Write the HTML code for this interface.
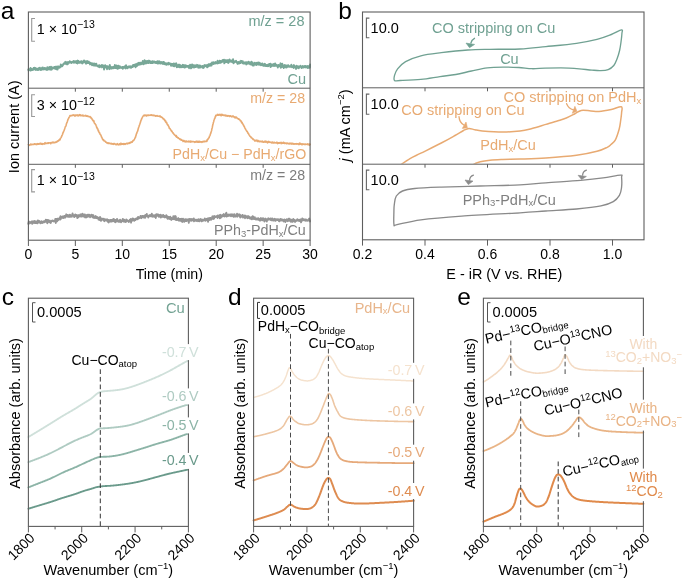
<!DOCTYPE html>
<html><head><meta charset="utf-8"><style>
html,body{margin:0;padding:0;background:#fff;overflow:hidden;width:685px;height:580px;}
svg{display:block;will-change:transform;}
text{font-family:"Liberation Sans", sans-serif;}
</style></head><body>
<svg width="685" height="580" viewBox="0 0 685 580">
<rect width="685" height="580" fill="#fff"/>
<polyline points="28.30,69.53 28.55,70.58 28.80,70.47 29.05,69.07 29.30,69.23 29.55,69.04 29.80,69.91 30.05,69.40 30.30,70.04 30.55,67.95 30.80,70.67 31.05,69.33 31.30,69.95 31.55,69.28 31.80,69.08 32.05,69.74 32.30,70.02 32.55,69.19 32.80,69.22 33.05,69.88 33.30,68.63 33.55,68.10 33.80,69.62 34.05,68.76 34.30,67.74 34.55,68.62 34.80,68.88 35.05,68.29 35.30,68.04 35.55,69.25 35.80,69.93 36.05,69.01 36.30,68.59 36.55,69.48 36.80,69.74 37.05,68.91 37.30,69.58 37.55,69.96 37.80,68.95 38.05,68.45 38.30,69.37 38.55,69.27 38.80,69.94 39.05,68.02 39.30,68.51 39.55,68.35 39.80,67.62 40.05,69.10 40.30,69.41 40.55,68.38 40.80,70.06 41.05,69.60 41.30,69.43 41.55,69.23 41.80,69.66 42.05,67.82 42.30,69.36 42.55,69.33 42.80,67.42 43.05,69.10 43.30,68.60 43.55,69.41 43.80,68.42 44.05,68.74 44.30,69.01 44.55,68.02 44.80,69.18 45.05,68.60 45.30,69.06 45.55,68.23 45.80,69.50 46.05,69.10 46.30,68.45 46.55,69.08 46.80,69.56 47.05,69.97 47.30,67.26 47.55,69.20 47.80,68.85 48.05,68.38 48.30,67.63 48.55,69.42 48.80,67.39 49.05,68.83 49.30,69.40 49.55,67.06 49.80,68.07 50.05,67.25 50.30,68.47 50.55,69.47 50.80,69.85 51.05,66.79 51.30,67.74 51.55,68.74 51.80,69.42 52.05,68.48 52.30,67.52 52.55,68.34 52.80,68.07 53.05,67.90 53.30,67.45 53.55,68.33 53.80,68.24 54.05,67.90 54.30,67.77 54.55,66.89 54.80,67.51 55.05,68.83 55.30,67.69 55.55,66.66 55.80,68.84 56.05,68.17 56.30,69.39 56.55,67.72 56.80,67.26 57.05,66.43 57.30,68.60 57.55,69.54 57.80,66.76 58.05,66.83 58.30,67.75 58.55,66.52 58.80,66.88 59.05,66.72 59.30,67.05 59.55,67.67 59.80,66.70 60.05,67.31 60.30,66.12 60.55,66.58 60.80,64.45 61.05,64.84 61.30,66.47 61.55,65.18 61.80,65.94 62.05,65.74 62.30,66.19 62.55,65.62 62.80,65.63 63.05,64.58 63.30,63.97 63.55,63.80 63.80,63.85 64.05,63.18 64.30,63.50 64.55,63.71 64.80,63.84 65.05,63.22 65.30,61.82 65.55,63.17 65.80,63.28 66.05,63.86 66.30,63.35 66.55,62.28 66.80,62.14 67.05,64.27 67.30,63.22 67.55,64.05 67.80,64.26 68.05,61.87 68.30,62.81 68.55,62.84 68.80,62.90 69.05,62.86 69.30,62.57 69.55,62.52 69.80,61.16 70.05,62.20 70.30,61.72 70.55,62.40 70.80,61.90 71.05,62.75 71.30,62.89 71.55,62.47 71.80,62.46 72.05,62.26 72.30,61.81 72.55,62.03 72.80,61.75 73.05,62.44 73.30,62.13 73.55,62.57 73.80,61.03 74.05,62.79 74.30,61.46 74.55,61.48 74.80,61.90 75.05,61.60 75.30,62.27 75.55,61.57 75.80,61.17 76.05,61.34 76.30,63.06 76.55,62.05 76.80,61.07 77.05,62.01 77.30,60.76 77.55,63.43 77.80,60.78 78.05,62.38 78.30,62.44 78.55,60.84 78.80,62.24 79.05,62.81 79.30,62.39 79.55,62.23 79.80,62.78 80.05,62.16 80.30,62.31 80.55,61.94 80.80,62.56 81.05,61.31 81.30,62.71 81.55,61.68 81.80,61.22 82.05,62.40 82.30,63.48 82.55,62.91 82.80,61.74 83.05,62.72 83.30,61.82 83.55,62.10 83.80,62.29 84.05,60.38 84.30,62.41 84.55,61.45 84.80,61.73 85.05,61.13 85.30,61.12 85.55,61.60 85.80,63.04 86.05,63.73 86.30,62.40 86.55,63.32 86.80,62.26 87.05,60.96 87.30,62.64 87.55,62.90 87.80,62.23 88.05,62.84 88.30,63.08 88.55,61.97 88.80,61.52 89.05,62.58 89.30,62.65 89.55,62.60 89.80,63.74 90.05,64.40 90.30,62.77 90.55,63.74 90.80,64.01 91.05,63.92 91.30,64.27 91.55,63.21 91.80,64.20 92.05,65.31 92.30,64.42 92.55,63.36 92.80,64.42 93.05,65.03 93.30,64.39 93.55,63.73 93.80,65.50 94.05,63.35 94.30,64.85 94.55,64.52 94.80,63.67 95.05,65.70 95.30,65.10 95.55,63.98 95.80,65.49 96.05,64.75 96.30,63.66 96.55,64.72 96.80,65.57 97.05,65.94 97.30,65.64 97.55,65.62 97.80,66.02 98.05,65.54 98.30,66.70 98.55,65.93 98.80,66.09 99.05,66.33 99.30,65.09 99.55,65.41 99.80,67.25 100.05,66.33 100.30,65.88 100.55,66.42 100.80,65.80 101.05,66.44 101.30,65.72 101.55,66.51 101.80,65.07 102.05,67.43 102.30,65.99 102.55,65.17 102.80,66.29 103.05,66.20 103.30,66.65 103.55,65.65 103.80,66.91 104.05,69.52 104.30,65.63 104.55,66.95 104.80,66.46 105.05,66.89 105.30,65.31 105.55,65.86 105.80,67.18 106.05,66.80 106.30,68.16 106.55,66.31 106.80,67.04 107.05,69.25 107.30,66.32 107.55,66.23 107.80,66.95 108.05,66.96 108.30,67.68 108.55,67.13 108.80,66.43 109.05,67.22 109.30,69.18 109.55,68.10 109.80,64.87 110.05,66.99 110.30,66.41 110.55,67.62 110.80,67.00 111.05,68.69 111.30,67.90 111.55,67.88 111.80,67.32 112.05,67.15 112.30,67.47 112.55,68.24 112.80,67.64 113.05,66.94 113.30,68.25 113.55,67.40 113.80,67.19 114.05,66.63 114.30,66.82 114.55,66.77 114.80,65.05 115.05,68.11 115.30,67.75 115.55,67.14 115.80,68.15 116.05,67.67 116.30,67.63 116.55,65.36 116.80,67.16 117.05,67.77 117.30,68.64 117.55,68.83 117.80,68.50 118.05,66.44 118.30,65.61 118.55,67.83 118.80,67.40 119.05,68.15 119.30,67.29 119.55,67.57 119.80,66.19 120.05,67.75 120.30,67.04 120.55,67.68 120.80,67.77 121.05,67.31 121.30,67.65 121.55,67.39 121.80,68.00 122.05,67.80 122.30,66.95 122.55,66.91 122.80,68.77 123.05,67.29 123.30,68.15 123.55,67.66 123.80,66.88 124.05,66.72 124.30,67.41 124.55,67.50 124.80,67.77 125.05,66.25 125.30,66.77 125.55,67.15 125.80,68.49 126.05,65.30 126.30,67.52 126.55,66.71 126.80,67.47 127.05,66.71 127.30,67.37 127.55,68.31 127.80,67.31 128.05,67.35 128.30,67.28 128.55,66.36 128.80,67.36 129.05,66.74 129.30,66.23 129.55,66.82 129.80,66.64 130.05,67.40 130.30,66.73 130.55,66.31 130.80,67.86 131.05,67.44 131.30,67.63 131.55,67.05 131.80,66.43 132.05,66.13 132.30,66.19 132.55,67.11 132.80,66.39 133.05,65.05 133.30,66.14 133.55,64.97 133.80,66.17 134.05,65.01 134.30,64.89 134.55,65.93 134.80,65.70 135.05,64.36 135.30,66.20 135.55,67.24 135.80,64.23 136.05,66.76 136.30,64.65 136.55,64.69 136.80,64.82 137.05,63.69 137.30,65.77 137.55,65.00 137.80,63.89 138.05,64.16 138.30,63.07 138.55,63.90 138.80,64.83 139.05,62.60 139.30,63.52 139.55,63.87 139.80,64.48 140.05,64.61 140.30,63.05 140.55,62.71 140.80,63.55 141.05,62.79 141.30,62.73 141.55,63.74 141.80,64.13 142.05,62.90 142.30,62.45 142.55,62.99 142.80,60.96 143.05,62.40 143.30,61.52 143.55,64.24 143.80,62.88 144.05,62.41 144.30,62.14 144.55,60.28 144.80,62.86 145.05,63.58 145.30,61.69 145.55,62.82 145.80,62.85 146.05,61.03 146.30,63.01 146.55,63.34 146.80,62.44 147.05,62.20 147.30,62.88 147.55,61.01 147.80,62.31 148.05,63.08 148.30,61.24 148.55,63.03 148.80,61.89 149.05,60.56 149.30,62.14 149.55,61.44 149.80,62.48 150.05,61.28 150.30,63.06 150.55,61.62 150.80,62.50 151.05,61.74 151.30,61.95 151.55,63.16 151.80,62.38 152.05,61.89 152.30,61.20 152.55,63.13 152.80,62.79 153.05,61.94 153.30,62.40 153.55,61.38 153.80,61.39 154.05,61.54 154.30,62.48 154.55,62.44 154.80,61.60 155.05,62.79 155.30,62.83 155.55,62.35 155.80,63.05 156.05,62.00 156.30,62.15 156.55,62.63 156.80,62.24 157.05,62.92 157.30,61.31 157.55,63.47 157.80,61.73 158.05,62.25 158.30,61.31 158.55,62.92 158.80,63.49 159.05,63.36 159.30,63.20 159.55,61.32 159.80,61.98 160.05,62.26 160.30,61.92 160.55,63.60 160.80,62.89 161.05,62.75 161.30,63.20 161.55,62.08 161.80,62.15 162.05,62.20 162.30,63.34 162.55,63.25 162.80,63.48 163.05,63.92 163.30,62.01 163.55,62.69 163.80,63.31 164.05,62.16 164.30,62.86 164.55,64.14 164.80,64.26 165.05,64.29 165.30,63.51 165.55,63.36 165.80,64.44 166.05,63.33 166.30,63.95 166.55,64.79 166.80,63.48 167.05,63.34 167.30,63.87 167.55,64.40 167.80,64.35 168.05,64.13 168.30,64.50 168.55,62.82 168.80,63.45 169.05,64.31 169.30,63.49 169.55,63.20 169.80,63.35 170.05,63.63 170.30,64.26 170.55,63.63 170.80,64.69 171.05,65.90 171.30,64.47 171.55,65.65 171.80,64.91 172.05,63.83 172.30,64.56 172.55,64.02 172.80,65.47 173.05,63.97 173.30,66.00 173.55,65.44 173.80,63.40 174.05,65.69 174.30,66.35 174.55,64.51 174.80,65.97 175.05,63.78 175.30,65.46 175.55,63.96 175.80,65.72 176.05,63.93 176.30,63.29 176.55,65.75 176.80,67.29 177.05,65.02 177.30,66.19 177.55,65.64 177.80,65.32 178.05,66.10 178.30,66.94 178.55,64.67 178.80,66.13 179.05,65.99 179.30,64.60 179.55,67.05 179.80,67.35 180.05,65.05 180.30,67.23 180.55,65.91 180.80,65.76 181.05,67.12 181.30,66.12 181.55,66.23 181.80,67.21 182.05,67.05 182.30,66.76 182.55,64.94 182.80,64.83 183.05,67.01 183.30,65.39 183.55,66.27 183.80,65.32 184.05,66.05 184.30,65.19 184.55,67.54 184.80,65.44 185.05,66.17 185.30,66.13 185.55,67.26 185.80,65.18 186.05,66.30 186.30,66.17 186.55,66.78 186.80,66.74 187.05,66.00 187.30,66.57 187.55,66.09 187.80,66.77 188.05,66.31 188.30,65.87 188.55,66.38 188.80,66.69 189.05,68.21 189.30,66.01 189.55,66.64 189.80,67.57 190.05,64.74 190.30,65.00 190.55,65.45 190.80,66.30 191.05,68.35 191.30,66.71 191.55,67.36 191.80,66.21 192.05,64.42 192.30,64.54 192.55,67.20 192.80,66.53 193.05,65.35 193.30,67.28 193.55,65.15 193.80,67.29 194.05,67.54 194.30,65.76 194.55,65.49 194.80,67.05 195.05,65.49 195.30,67.05 195.55,65.41 195.80,67.01 196.05,66.43 196.30,66.01 196.55,65.63 196.80,66.54 197.05,64.83 197.30,66.12 197.55,66.02 197.80,66.88 198.05,65.33 198.30,67.70 198.55,66.07 198.80,65.41 199.05,67.42 199.30,67.64 199.55,66.16 199.80,65.59 200.05,66.31 200.30,65.74 200.55,66.04 200.80,67.53 201.05,66.58 201.30,66.38 201.55,66.52 201.80,66.19 202.05,66.89 202.30,66.91 202.55,65.89 202.80,66.25 203.05,68.08 203.30,66.47 203.55,65.96 203.80,67.72 204.05,66.07 204.30,65.16 204.55,66.55 204.80,65.26 205.05,65.55 205.30,66.18 205.55,65.79 205.80,65.25 206.05,65.39 206.30,65.32 206.55,66.70 206.80,65.15 207.05,65.23 207.30,67.28 207.55,65.15 207.80,66.72 208.05,66.51 208.30,65.25 208.55,64.15 208.80,65.55 209.05,65.63 209.30,65.76 209.55,64.94 209.80,65.74 210.05,65.78 210.30,63.72 210.55,65.60 210.80,64.49 211.05,63.79 211.30,63.89 211.55,65.55 211.80,64.75 212.05,62.45 212.30,63.87 212.55,63.61 212.80,63.51 213.05,63.16 213.30,62.32 213.55,64.09 213.80,62.57 214.05,62.95 214.30,62.68 214.55,62.50 214.80,63.60 215.05,63.24 215.30,62.32 215.55,62.03 215.80,62.33 216.05,63.41 216.30,62.67 216.55,62.69 216.80,62.18 217.05,62.17 217.30,62.49 217.55,60.79 217.80,63.50 218.05,61.53 218.30,61.66 218.55,63.14 218.80,62.21 219.05,62.03 219.30,61.49 219.55,60.68 219.80,62.04 220.05,62.81 220.30,61.10 220.55,62.88 220.80,60.86 221.05,61.14 221.30,62.10 221.55,61.66 221.80,62.19 222.05,61.01 222.30,60.75 222.55,60.05 222.80,60.56 223.05,60.63 223.30,60.32 223.55,61.69 223.80,60.89 224.05,59.80 224.30,63.36 224.55,60.68 224.80,60.33 225.05,62.30 225.30,62.23 225.55,60.36 225.80,60.09 226.05,60.45 226.30,62.14 226.55,60.98 226.80,60.57 227.05,61.19 227.30,62.17 227.55,60.09 227.80,60.89 228.05,60.09 228.30,62.94 228.55,62.66 228.80,61.97 229.05,61.11 229.30,61.75 229.55,59.54 229.80,61.46 230.05,60.17 230.30,60.19 230.55,60.70 230.80,61.00 231.05,61.75 231.30,61.87 231.55,61.53 231.80,60.58 232.05,61.90 232.30,61.28 232.55,62.34 232.80,60.68 233.05,59.22 233.30,61.07 233.55,63.20 233.80,61.87 234.05,61.36 234.30,62.25 234.55,61.97 234.80,61.96 235.05,61.20 235.30,61.70 235.55,61.82 235.80,61.17 236.05,60.82 236.30,61.85 236.55,62.54 236.80,62.31 237.05,62.21 237.30,62.24 237.55,63.93 237.80,62.10 238.05,62.75 238.30,63.50 238.55,62.01 238.80,62.20 239.05,62.85 239.30,63.39 239.55,62.31 239.80,62.37 240.05,62.18 240.30,61.16 240.55,63.04 240.80,61.97 241.05,60.82 241.30,62.11 241.55,60.87 241.80,61.47 242.05,62.31 242.30,61.59 242.55,63.21 242.80,61.21 243.05,62.62 243.30,62.88 243.55,63.63 243.80,63.23 244.05,62.71 244.30,62.61 244.55,62.53 244.80,63.51 245.05,62.11 245.30,63.08 245.55,62.62 245.80,62.91 246.05,62.54 246.30,64.49 246.55,62.28 246.80,63.04 247.05,63.09 247.30,63.38 247.55,63.29 247.80,63.29 248.05,63.77 248.30,61.81 248.55,63.05 248.80,62.08 249.05,63.29 249.30,62.18 249.55,62.39 249.80,63.14 250.05,64.33 250.30,63.71 250.55,63.51 250.80,64.43 251.05,62.58 251.30,61.69 251.55,63.05 251.80,63.20 252.05,64.44 252.30,65.20 252.55,62.45 252.80,65.53 253.05,64.83 253.30,64.28 253.55,63.94 253.80,65.61 254.05,63.77 254.30,63.36 254.55,63.88 254.80,62.70 255.05,64.21 255.30,63.77 255.55,64.16 255.80,64.21 256.05,63.11 256.30,65.04 256.55,63.21 256.80,64.76 257.05,62.80 257.30,64.41 257.55,63.48 257.80,64.20 258.05,63.68 258.30,62.48 258.55,63.36 258.80,64.34 259.05,64.81 259.30,63.16 259.55,62.67 259.80,63.69 260.05,64.25 260.30,63.94 260.55,63.82 260.80,65.17 261.05,65.29 261.30,65.13 261.55,63.81 261.80,64.65 262.05,64.46 262.30,63.49 262.55,65.36 262.80,64.75 263.05,64.31 263.30,65.86 263.55,65.36 263.80,65.45 264.05,65.75 264.30,65.39 264.55,63.82 264.80,64.54 265.05,65.68 265.30,64.28 265.55,64.95 265.80,65.26 266.05,66.11 266.30,66.02 266.55,65.72 266.80,64.87 267.05,65.77 267.30,65.48 267.55,64.95 267.80,66.19 268.05,65.52 268.30,64.53 268.55,66.17 268.80,64.97 269.05,65.67 269.30,64.00 269.55,65.22 269.80,64.49 270.05,64.49 270.30,63.76 270.55,67.02 270.80,65.20 271.05,65.53 271.30,66.25 271.55,65.28 271.80,65.81 272.05,64.32 272.30,65.59 272.55,65.11 272.80,65.86 273.05,65.62 273.30,64.39 273.55,64.03 273.80,64.72 274.05,66.14 274.30,65.90 274.55,65.90 274.80,63.98 275.05,63.46 275.30,65.13 275.55,65.37 275.80,65.17 276.05,65.96 276.30,65.55 276.55,64.75 276.80,65.01 277.05,65.85 277.30,65.81 277.55,65.70 277.80,67.59 278.05,65.58 278.30,65.90 278.55,65.03 278.80,65.55 279.05,66.27 279.30,66.32 279.55,65.76 279.80,66.21 280.05,65.95 280.30,64.42 280.55,63.32 280.80,67.80 281.05,66.63 281.30,65.93 281.55,64.60 281.80,64.99 282.05,67.11 282.30,63.81 282.55,65.79 282.80,66.76 283.05,66.19 283.30,66.69 283.55,66.00 283.80,68.03 284.05,65.31 284.30,65.05 284.55,66.37 284.80,67.31 285.05,66.13 285.30,67.03 285.55,65.78 285.80,65.27 286.05,67.35 286.30,67.50 286.55,67.48 286.80,65.91 287.05,65.35 287.30,65.35 287.55,66.12 287.80,66.77 288.05,66.73 288.30,65.18 288.55,66.50 288.80,66.37 289.05,66.43 289.30,66.35 289.55,66.22 289.80,66.87 290.05,66.50 290.30,66.59 290.55,65.87 290.80,66.75 291.05,66.34 291.30,64.76 291.55,66.85 291.80,66.26 292.05,67.22 292.30,66.36 292.55,66.42 292.80,66.68 293.05,66.51 293.30,66.17 293.55,65.10 293.80,68.02 294.05,65.29 294.30,66.29 294.55,67.09 294.80,66.88 295.05,67.04 295.30,67.21 295.55,67.62 295.80,66.85 296.05,68.95 296.30,65.82 296.55,66.82 296.80,66.36 297.05,66.22 297.30,66.90 297.55,67.84 297.80,66.12 298.05,66.12 298.30,67.28 298.55,67.14 298.80,68.28 299.05,67.55 299.30,66.92 299.55,66.48 299.80,66.92 300.05,66.62 300.30,65.67 300.55,66.78 300.80,66.64 301.05,66.60 301.30,66.45 301.55,68.15 301.80,67.37 302.05,67.57 302.30,66.34 302.55,66.01 302.80,66.61 303.05,67.04 303.30,66.57 303.55,66.71 303.80,67.63 304.05,67.11 304.30,66.09 304.55,66.54 304.80,66.36 305.05,67.04 305.30,65.97 305.55,66.76 305.80,67.47 306.05,66.94 306.30,66.19 306.55,66.44 306.80,67.04 307.05,67.33 307.30,67.62 307.55,66.84 307.80,65.90 308.05,68.10 308.30,67.21 308.55,67.30 308.80,67.22 309.05,66.15 309.30,66.73 309.55,67.20 309.80,67.82 310.05,67.05 310.10,64.50" fill="none" stroke="#78a797" stroke-width="1.9" stroke-linejoin="round" stroke-linecap="round" />
<polyline points="28.30,144.53 28.60,144.69 28.90,144.96 29.20,144.78 29.50,145.30 29.80,144.97 30.10,144.93 30.40,144.79 30.70,144.08 31.00,144.74 31.30,144.65 31.60,144.29 31.90,144.61 32.20,144.54 32.50,144.26 32.80,144.35 33.10,144.29 33.40,144.42 33.70,144.21 34.00,144.48 34.30,143.72 34.60,144.19 34.90,143.76 35.20,144.10 35.50,144.38 35.80,144.21 36.10,144.15 36.40,144.18 36.70,144.61 37.00,143.79 37.30,144.37 37.60,143.63 37.90,143.92 38.20,144.09 38.50,143.76 38.80,144.05 39.10,144.19 39.40,143.59 39.70,143.90 40.00,143.79 40.30,143.30 40.60,143.80 40.90,143.59 41.20,144.21 41.50,143.52 41.80,144.27 42.10,143.58 42.40,144.30 42.70,143.85 43.00,143.80 43.30,143.88 43.60,143.89 43.90,144.01 44.20,144.09 44.50,143.44 44.80,143.14 45.10,142.69 45.40,143.35 45.70,143.67 46.00,143.53 46.30,143.43 46.60,143.27 46.90,143.16 47.20,143.24 47.50,143.42 47.80,142.75 48.10,143.47 48.40,142.79 48.70,143.16 49.00,142.99 49.30,143.04 49.60,142.81 49.90,142.75 50.20,143.00 50.50,142.72 50.80,143.75 51.10,142.85 51.40,142.75 51.70,142.74 52.00,142.55 52.30,142.10 52.60,142.72 52.90,142.84 53.20,142.26 53.50,142.66 53.80,142.25 54.10,142.55 54.40,142.62 54.70,142.60 55.00,142.53 55.30,142.12 55.60,142.52 55.90,142.02 56.20,142.15 56.50,142.14 56.80,141.70 57.10,141.26 57.40,141.67 57.70,140.98 58.00,140.86 58.30,140.60 58.60,140.98 58.90,140.41 59.20,139.47 59.50,140.01 59.80,140.00 60.10,139.48 60.40,138.31 60.70,138.02 61.00,137.65 61.30,137.24 61.60,136.39 61.90,135.42 62.20,135.30 62.50,134.55 62.80,133.22 63.10,132.74 63.40,132.14 63.70,131.26 64.00,130.61 64.30,129.88 64.60,129.00 64.90,128.00 65.20,126.85 65.50,126.66 65.80,126.07 66.10,125.38 66.40,123.89 66.70,123.00 67.00,122.57 67.30,121.72 67.60,120.59 67.90,119.95 68.20,118.84 68.50,118.67 68.80,117.72 69.10,117.39 69.40,116.90 69.70,116.35 70.00,115.50 70.30,115.64 70.60,115.87 70.90,115.67 71.20,115.50 71.50,115.68 71.80,115.70 72.10,115.70 72.40,115.16 72.70,115.37 73.00,115.24 73.30,115.05 73.60,114.85 73.90,115.27 74.20,115.03 74.50,115.94 74.80,115.27 75.10,115.23 75.40,115.18 75.70,115.87 76.00,115.03 76.30,115.26 76.60,115.09 76.90,115.28 77.20,115.32 77.50,115.66 77.80,114.91 78.10,115.34 78.40,115.84 78.70,115.21 79.00,115.31 79.30,115.11 79.60,114.60 79.90,115.36 80.20,115.75 80.50,115.27 80.80,114.87 81.10,115.53 81.40,115.49 81.70,115.79 82.00,115.78 82.30,115.46 82.60,115.69 82.90,115.06 83.20,115.96 83.50,115.72 83.80,116.03 84.10,116.06 84.40,115.69 84.70,115.77 85.00,115.59 85.30,115.28 85.60,115.90 85.90,116.03 86.20,115.70 86.50,116.28 86.80,116.15 87.10,116.30 87.40,115.99 87.70,115.75 88.00,116.58 88.30,116.61 88.60,116.47 88.90,116.46 89.20,116.60 89.50,116.75 89.80,116.78 90.10,116.52 90.40,117.59 90.70,117.17 91.00,117.81 91.30,118.13 91.60,118.63 91.90,118.40 92.20,119.59 92.50,119.81 92.80,120.26 93.10,120.86 93.40,120.71 93.70,120.50 94.00,122.05 94.30,122.85 94.60,123.32 94.90,123.33 95.20,124.01 95.50,124.69 95.80,124.65 96.10,125.58 96.40,126.20 96.70,127.48 97.00,127.44 97.30,128.73 97.60,128.90 97.90,129.03 98.20,130.83 98.50,130.51 98.80,131.62 99.10,132.57 99.40,132.51 99.70,132.90 100.00,134.18 100.30,134.46 100.60,134.63 100.90,135.24 101.20,136.02 101.50,137.01 101.80,137.21 102.10,138.05 102.40,138.89 102.70,139.28 103.00,139.79 103.30,140.13 103.60,139.63 103.90,140.80 104.20,140.86 104.50,141.03 104.80,141.03 105.10,141.16 105.40,141.56 105.70,142.12 106.00,141.98 106.30,142.27 106.60,142.47 106.90,142.97 107.20,142.76 107.50,142.89 107.80,143.40 108.10,142.98 108.40,143.33 108.70,142.90 109.00,143.38 109.30,143.39 109.60,143.47 109.90,143.33 110.20,143.22 110.50,143.50 110.80,143.50 111.10,144.00 111.40,144.01 111.70,143.43 112.00,144.02 112.30,143.73 112.60,144.05 112.90,143.80 113.20,143.54 113.50,144.32 113.80,144.18 114.10,143.70 114.40,143.53 114.70,143.96 115.00,143.78 115.30,144.04 115.60,144.35 115.90,144.62 116.20,144.08 116.50,144.61 116.80,144.55 117.10,144.07 117.40,143.70 117.70,144.45 118.00,144.38 118.30,144.89 118.60,144.61 118.90,144.41 119.20,144.67 119.50,143.84 119.80,144.20 120.10,144.05 120.40,144.64 120.70,144.27 121.00,143.17 121.30,144.48 121.60,143.78 121.90,144.27 122.20,143.87 122.50,144.07 122.80,144.17 123.10,144.01 123.40,143.65 123.70,144.33 124.00,144.01 124.30,143.86 124.60,144.05 124.90,143.65 125.20,144.35 125.50,143.82 125.80,143.83 126.10,143.79 126.40,143.37 126.70,143.24 127.00,143.61 127.30,143.60 127.60,143.83 127.90,143.50 128.20,142.97 128.50,143.39 128.80,143.40 129.10,143.37 129.40,143.09 129.70,142.53 130.00,143.15 130.30,142.48 130.60,142.75 130.90,141.97 131.20,142.52 131.50,141.88 131.80,142.25 132.10,142.25 132.40,141.85 132.70,140.90 133.00,140.70 133.30,140.44 133.60,140.60 133.90,140.11 134.20,139.56 134.50,139.04 134.80,138.49 135.10,137.84 135.40,137.45 135.70,136.21 136.00,135.57 136.30,134.20 136.60,133.56 136.90,132.89 137.20,131.84 137.50,131.34 137.80,130.63 138.10,129.23 138.40,128.25 138.70,127.29 139.00,126.54 139.30,125.43 139.60,124.84 139.90,123.88 140.20,122.94 140.50,122.11 140.80,120.95 141.10,120.10 141.40,119.78 141.70,118.55 142.00,118.24 142.30,117.53 142.60,116.90 142.90,116.45 143.20,115.92 143.50,115.81 143.80,115.33 144.10,115.18 144.40,115.57 144.70,115.16 145.00,115.54 145.30,115.28 145.60,115.46 145.90,115.02 146.20,115.26 146.50,116.01 146.80,115.47 147.10,115.53 147.40,115.30 147.70,115.50 148.00,114.90 148.30,115.00 148.60,115.40 148.90,115.52 149.20,115.16 149.50,115.24 149.80,115.20 150.10,115.26 150.40,114.97 150.70,114.91 151.00,115.33 151.30,114.84 151.60,115.09 151.90,115.19 152.20,115.09 152.50,115.49 152.80,115.31 153.10,115.43 153.40,115.18 153.70,115.28 154.00,115.68 154.30,115.67 154.60,115.45 154.90,115.73 155.20,115.72 155.50,115.75 155.80,116.22 156.10,115.66 156.40,115.95 156.70,116.00 157.00,115.86 157.30,115.63 157.60,116.25 157.90,116.18 158.20,116.17 158.50,116.23 158.80,116.30 159.10,116.09 159.40,116.52 159.70,115.97 160.00,116.58 160.30,116.22 160.60,116.65 160.90,117.07 161.20,116.91 161.50,117.01 161.80,117.50 162.10,117.49 162.40,117.68 162.70,117.94 163.00,118.78 163.30,118.80 163.60,119.02 163.90,118.83 164.20,119.71 164.50,119.51 164.80,120.43 165.10,120.36 165.40,121.70 165.70,121.04 166.00,122.35 166.30,122.67 166.60,122.38 166.90,123.35 167.20,124.38 167.50,124.82 167.80,124.53 168.10,125.42 168.40,125.77 168.70,126.36 169.00,127.00 169.30,128.25 169.60,128.22 169.90,128.57 170.20,128.96 170.50,129.68 170.80,130.11 171.10,130.03 171.40,131.15 171.70,130.78 172.00,131.41 172.30,132.02 172.60,132.77 172.90,132.53 173.20,133.08 173.50,133.74 173.80,133.89 174.10,134.38 174.40,134.69 174.70,134.78 175.00,135.20 175.30,135.60 175.60,135.61 175.90,136.39 176.20,135.59 176.50,136.19 176.80,137.16 177.10,137.13 177.40,137.07 177.70,137.63 178.00,138.10 178.30,137.85 178.60,138.49 178.90,138.45 179.20,138.68 179.50,138.90 179.80,139.45 180.10,138.97 180.40,139.37 180.70,139.84 181.00,139.42 181.30,139.44 181.60,140.22 181.90,140.18 182.20,140.26 182.50,140.47 182.80,140.26 183.10,141.54 183.40,140.48 183.70,140.75 184.00,140.55 184.30,140.94 184.60,141.60 184.90,141.22 185.20,141.45 185.50,141.18 185.80,141.91 186.10,141.44 186.40,141.04 186.70,141.67 187.00,141.35 187.30,141.67 187.60,141.55 187.90,141.61 188.20,141.59 188.50,141.29 188.80,141.13 189.10,141.90 189.40,141.58 189.70,141.72 190.00,141.51 190.30,141.06 190.60,141.30 190.90,142.11 191.20,141.47 191.50,141.60 191.80,141.29 192.10,141.58 192.40,141.63 192.70,141.69 193.00,141.74 193.30,141.58 193.60,141.60 193.90,141.77 194.20,141.87 194.50,141.74 194.80,142.30 195.10,141.84 195.40,141.83 195.70,141.58 196.00,142.09 196.30,141.47 196.60,141.29 196.90,141.48 197.20,141.95 197.50,141.42 197.80,142.15 198.10,141.75 198.40,141.30 198.70,141.68 199.00,142.28 199.30,141.48 199.60,141.34 199.90,141.88 200.20,142.11 200.50,142.01 200.80,141.60 201.10,141.74 201.40,141.77 201.70,142.02 202.00,142.30 202.30,141.61 202.60,142.02 202.90,141.51 203.20,141.78 203.50,141.31 203.80,141.34 204.10,141.68 204.40,141.27 204.70,141.78 205.00,141.33 205.30,141.50 205.60,141.40 205.90,141.20 206.20,141.16 206.50,141.21 206.80,141.53 207.10,139.93 207.40,140.02 207.70,139.50 208.00,138.89 208.30,138.84 208.60,138.07 208.90,137.82 209.20,137.62 209.50,135.98 209.80,135.93 210.10,135.20 210.40,133.94 210.70,133.52 211.00,132.58 211.30,131.39 211.60,130.73 211.90,128.72 212.20,127.98 212.50,126.36 212.80,124.76 213.10,123.71 213.40,122.43 213.70,121.67 214.00,120.03 214.30,119.55 214.60,118.59 214.90,118.34 215.20,116.76 215.50,116.73 215.80,115.36 216.10,115.65 216.40,115.33 216.70,115.34 217.00,114.89 217.30,114.40 217.60,114.44 217.90,115.23 218.20,114.85 218.50,114.52 218.80,115.05 219.10,114.56 219.40,114.57 219.70,114.44 220.00,115.18 220.30,115.44 220.60,114.58 220.90,114.98 221.20,115.22 221.50,115.59 221.80,114.27 222.10,115.07 222.40,115.26 222.70,114.66 223.00,115.27 223.30,115.25 223.60,115.45 223.90,115.10 224.20,115.44 224.50,115.18 224.80,115.58 225.10,115.49 225.40,115.38 225.70,115.11 226.00,116.07 226.30,115.94 226.60,115.92 226.90,115.49 227.20,115.63 227.50,116.27 227.80,116.03 228.10,115.60 228.40,115.91 228.70,115.97 229.00,115.91 229.30,115.73 229.60,116.44 229.90,116.28 230.20,116.09 230.50,115.73 230.80,116.07 231.10,116.30 231.40,116.61 231.70,116.29 232.00,116.79 232.30,116.56 232.60,116.35 232.90,115.80 233.20,116.35 233.50,116.32 233.80,116.79 234.10,117.01 234.40,117.40 234.70,117.06 235.00,116.80 235.30,117.94 235.60,117.42 235.90,117.34 236.20,117.43 236.50,117.21 236.80,117.93 237.10,117.99 237.40,118.53 237.70,118.57 238.00,118.71 238.30,119.05 238.60,118.83 238.90,119.03 239.20,119.42 239.50,119.33 239.80,119.94 240.10,120.18 240.40,120.81 240.70,120.97 241.00,120.79 241.30,121.79 241.60,122.64 241.90,122.12 242.20,122.93 242.50,123.65 242.80,123.76 243.10,124.51 243.40,125.22 243.70,125.34 244.00,126.37 244.30,126.94 244.60,126.98 244.90,127.91 245.20,128.76 245.50,128.91 245.80,129.60 246.10,130.17 246.40,130.39 246.70,131.23 247.00,131.51 247.30,131.56 247.60,132.48 247.90,133.05 248.20,133.51 248.50,133.54 248.80,134.33 249.10,135.05 249.40,135.14 249.70,135.84 250.00,136.27 250.30,136.24 250.60,136.80 250.90,136.87 251.20,137.62 251.50,137.62 251.80,137.82 252.10,138.30 252.40,138.60 252.70,139.02 253.00,139.31 253.30,139.05 253.60,139.40 253.90,139.86 254.20,140.02 254.50,140.01 254.80,140.89 255.10,140.54 255.40,140.28 255.70,140.61 256.00,140.89 256.30,140.68 256.60,140.13 256.90,140.76 257.20,140.82 257.50,141.51 257.80,140.39 258.10,141.46 258.40,141.01 258.70,141.39 259.00,141.08 259.30,141.27 259.60,141.61 259.90,141.34 260.20,141.67 260.50,141.37 260.80,141.32 261.10,141.41 261.40,141.36 261.70,141.51 262.00,141.99 262.30,141.27 262.60,141.15 262.90,141.67 263.20,142.21 263.50,142.05 263.80,142.16 264.10,142.16 264.40,141.59 264.70,141.87 265.00,141.06 265.30,141.70 265.60,142.09 265.90,141.46 266.20,141.33 266.50,141.58 266.80,142.06 267.10,142.36 267.40,142.81 267.70,142.48 268.00,141.62 268.30,141.40 268.60,142.16 268.90,142.45 269.20,141.67 269.50,142.02 269.80,142.06 270.10,142.23 270.40,142.19 270.70,142.42 271.00,142.60 271.30,142.33 271.60,142.55 271.90,142.95 272.20,142.06 272.50,142.08 272.80,142.56 273.10,142.99 273.40,142.50 273.70,142.80 274.00,142.40 274.30,142.79 274.60,142.35 274.90,142.76 275.20,142.69 275.50,142.71 275.80,143.03 276.10,142.95 276.40,142.47 276.70,142.94 277.00,142.18 277.30,143.01 277.60,143.55 277.90,142.91 278.20,142.92 278.50,142.81 278.80,143.06 279.10,142.69 279.40,143.05 279.70,142.78 280.00,142.76 280.30,142.94 280.60,142.90 280.90,142.42 281.20,143.58 281.50,143.02 281.80,142.49 282.10,143.34 282.40,143.03 282.70,143.12 283.00,143.29 283.30,142.82 283.60,142.23 283.90,143.10 284.20,143.22 284.50,143.47 284.80,142.96 285.10,143.13 285.40,143.35 285.70,143.15 286.00,143.19 286.30,143.37 286.60,143.01 286.90,143.81 287.20,143.07 287.50,143.38 287.80,143.29 288.10,143.20 288.40,143.59 288.70,143.76 289.00,143.91 289.30,143.67 289.60,143.38 289.90,143.79 290.20,143.12 290.50,143.59 290.80,143.75 291.10,143.78 291.40,143.28 291.70,143.20 292.00,144.16 292.30,143.53 292.60,143.21 292.90,143.35 293.20,143.74 293.50,144.11 293.80,143.77 294.10,144.14 294.40,143.87 294.70,143.96 295.00,144.12 295.30,143.73 295.60,143.95 295.90,143.76 296.20,143.70 296.50,144.10 296.80,143.67 297.10,143.95 297.40,143.71 297.70,143.93 298.00,143.81 298.30,144.31 298.60,144.02 298.90,144.03 299.20,144.52 299.50,143.17 299.80,143.71 300.10,143.24 300.40,144.07 300.70,144.22 301.00,144.29 301.30,144.19 301.60,143.86 301.90,144.66 302.20,144.24 302.50,144.08 302.80,143.83 303.10,144.31 303.40,144.04 303.70,144.07 304.00,144.28 304.30,144.29 304.60,143.99 304.90,144.62 305.20,143.96 305.50,143.93 305.80,144.37 306.10,144.33 306.40,144.32 306.70,144.18 307.00,144.33 307.30,144.16 307.60,143.84 307.90,144.56 308.20,144.05 308.50,144.29 308.80,144.59 309.10,144.39 309.40,145.21 309.70,143.98 310.00,144.18 310.10,144.43" fill="none" stroke="#e8aa72" stroke-width="1.6" stroke-linejoin="round" stroke-linecap="round" />
<polyline points="28.30,223.80 28.55,222.50 28.80,221.54 29.05,223.58 29.30,221.91 29.55,222.47 29.80,223.32 30.05,222.06 30.30,222.22 30.55,222.96 30.80,222.39 31.05,222.76 31.30,221.76 31.55,222.40 31.80,221.61 32.05,221.22 32.30,223.85 32.55,222.80 32.80,223.15 33.05,221.62 33.30,222.36 33.55,222.20 33.80,221.21 34.05,222.77 34.30,221.73 34.55,222.13 34.80,221.06 35.05,223.05 35.30,222.85 35.55,222.54 35.80,221.48 36.05,221.76 36.30,223.15 36.55,221.93 36.80,222.35 37.05,222.23 37.30,221.20 37.55,223.30 37.80,220.48 38.05,222.22 38.30,221.96 38.55,220.72 38.80,222.26 39.05,222.39 39.30,222.00 39.55,221.27 39.80,222.28 40.05,222.79 40.30,222.06 40.55,223.24 40.80,222.53 41.05,222.44 41.30,222.92 41.55,221.26 41.80,221.36 42.05,222.17 42.30,222.15 42.55,222.93 42.80,222.62 43.05,221.82 43.30,221.84 43.55,221.43 43.80,221.34 44.05,221.25 44.30,222.32 44.55,221.20 44.80,221.28 45.05,221.67 45.30,221.11 45.55,221.32 45.80,219.74 46.05,221.77 46.30,221.21 46.55,221.59 46.80,221.71 47.05,219.91 47.30,223.30 47.55,221.49 47.80,221.49 48.05,219.91 48.30,221.82 48.55,221.63 48.80,221.00 49.05,221.47 49.30,222.28 49.55,220.97 49.80,220.50 50.05,222.26 50.30,221.39 50.55,221.01 50.80,222.97 51.05,221.24 51.30,220.95 51.55,221.27 51.80,220.71 52.05,221.18 52.30,221.10 52.55,220.43 52.80,220.71 53.05,221.14 53.30,221.16 53.55,221.29 53.80,221.42 54.05,220.95 54.30,221.13 54.55,220.37 54.80,220.43 55.05,221.42 55.30,218.96 55.55,220.79 55.80,222.97 56.05,218.90 56.30,221.52 56.55,218.83 56.80,220.43 57.05,221.34 57.30,221.11 57.55,219.08 57.80,218.64 58.05,218.40 58.30,219.99 58.55,218.97 58.80,219.15 59.05,219.22 59.30,219.21 59.55,219.18 59.80,218.73 60.05,217.24 60.30,219.57 60.55,216.09 60.80,219.16 61.05,217.57 61.30,217.77 61.55,217.39 61.80,217.39 62.05,217.55 62.30,217.23 62.55,216.47 62.80,217.92 63.05,216.68 63.30,218.12 63.55,216.84 63.80,216.32 64.05,217.17 64.30,217.46 64.55,215.95 64.80,216.40 65.05,217.71 65.30,215.71 65.55,215.77 65.80,216.52 66.05,215.36 66.30,214.31 66.55,214.89 66.80,216.48 67.05,216.65 67.30,216.56 67.55,216.36 67.80,215.02 68.05,216.51 68.30,216.86 68.55,215.35 68.80,216.64 69.05,215.57 69.30,215.99 69.55,216.12 69.80,214.63 70.05,216.97 70.30,215.11 70.55,215.70 70.80,215.37 71.05,216.12 71.30,216.09 71.55,215.75 71.80,216.85 72.05,215.94 72.30,215.38 72.55,213.39 72.80,215.45 73.05,215.44 73.30,214.96 73.55,214.96 73.80,216.12 74.05,216.47 74.30,217.14 74.55,216.53 74.80,215.05 75.05,215.81 75.30,214.51 75.55,216.18 75.80,215.87 76.05,215.09 76.30,215.49 76.55,215.37 76.80,215.05 77.05,216.62 77.30,218.04 77.55,216.21 77.80,216.39 78.05,215.67 78.30,215.26 78.55,217.30 78.80,215.25 79.05,215.85 79.30,215.44 79.55,216.01 79.80,215.49 80.05,216.01 80.30,214.52 80.55,215.45 80.80,216.63 81.05,214.71 81.30,215.00 81.55,216.64 81.80,215.87 82.05,216.40 82.30,213.76 82.55,215.67 82.80,214.53 83.05,214.45 83.30,215.89 83.55,216.52 83.80,214.38 84.05,214.69 84.30,215.12 84.55,215.49 84.80,214.53 85.05,217.41 85.30,216.08 85.55,215.33 85.80,215.21 86.05,217.50 86.30,217.44 86.55,215.26 86.80,215.94 87.05,216.68 87.30,214.73 87.55,215.22 87.80,216.78 88.05,215.15 88.30,215.37 88.55,214.65 88.80,215.13 89.05,216.31 89.30,215.11 89.55,214.73 89.80,215.29 90.05,217.23 90.30,215.97 90.55,215.40 90.80,216.01 91.05,216.28 91.30,216.08 91.55,214.59 91.80,216.35 92.05,216.01 92.30,216.93 92.55,215.25 92.80,217.26 93.05,216.10 93.30,215.21 93.55,217.73 93.80,216.33 94.05,217.12 94.30,216.77 94.55,217.87 94.80,217.97 95.05,218.07 95.30,217.85 95.55,216.08 95.80,216.13 96.05,217.75 96.30,216.92 96.55,218.17 96.80,218.03 97.05,216.86 97.30,217.26 97.55,217.27 97.80,217.56 98.05,218.20 98.30,218.99 98.55,219.59 98.80,217.80 99.05,218.20 99.30,219.97 99.55,219.51 99.80,219.04 100.05,217.02 100.30,218.17 100.55,219.17 100.80,218.63 101.05,220.77 101.30,219.30 101.55,219.51 101.80,218.45 102.05,218.55 102.30,218.91 102.55,219.00 102.80,219.37 103.05,219.91 103.30,219.85 103.55,220.52 103.80,218.66 104.05,219.97 104.30,220.04 104.55,221.17 104.80,219.75 105.05,220.23 105.30,219.34 105.55,220.38 105.80,220.39 106.05,219.60 106.30,219.78 106.55,220.14 106.80,220.67 107.05,219.30 107.30,220.98 107.55,220.03 107.80,221.86 108.05,221.54 108.30,220.06 108.55,219.91 108.80,222.44 109.05,220.99 109.30,220.97 109.55,220.20 109.80,220.46 110.05,221.24 110.30,221.12 110.55,219.98 110.80,221.68 111.05,220.94 111.30,219.95 111.55,221.54 111.80,220.62 112.05,221.41 112.30,220.35 112.55,221.11 112.80,219.52 113.05,221.15 113.30,219.63 113.55,221.00 113.80,218.83 114.05,220.83 114.30,221.48 114.55,221.29 114.80,221.86 115.05,220.03 115.30,222.17 115.55,222.20 115.80,219.93 116.05,220.26 116.30,220.44 116.55,220.88 116.80,221.05 117.05,218.90 117.30,221.38 117.55,220.69 117.80,220.08 118.05,221.66 118.30,220.62 118.55,221.81 118.80,221.33 119.05,220.64 119.30,221.84 119.55,221.55 119.80,220.49 120.05,219.60 120.30,220.46 120.55,221.39 120.80,220.70 121.05,222.32 121.30,221.11 121.55,221.05 121.80,221.22 122.05,220.18 122.30,220.80 122.55,220.36 122.80,219.00 123.05,219.46 123.30,221.49 123.55,220.54 123.80,220.80 124.05,219.70 124.30,220.42 124.55,221.52 124.80,220.97 125.05,220.47 125.30,222.11 125.55,220.82 125.80,220.58 126.05,221.78 126.30,219.44 126.55,221.28 126.80,219.92 127.05,220.17 127.30,220.24 127.55,220.88 127.80,220.84 128.05,220.98 128.30,220.89 128.55,221.83 128.80,222.04 129.05,221.23 129.30,221.25 129.55,220.31 129.80,219.70 130.05,221.04 130.30,220.57 130.55,221.21 130.80,219.02 131.05,222.62 131.30,219.41 131.55,220.43 131.80,221.17 132.05,219.21 132.30,219.83 132.55,218.58 132.80,218.98 133.05,218.49 133.30,220.06 133.55,220.12 133.80,219.53 134.05,220.70 134.30,220.70 134.55,219.48 134.80,219.20 135.05,219.05 135.30,218.81 135.55,220.12 135.80,219.17 136.05,218.61 136.30,218.60 136.55,219.13 136.80,218.26 137.05,218.73 137.30,218.34 137.55,219.35 137.80,219.08 138.05,216.90 138.30,217.80 138.55,218.39 138.80,217.34 139.05,218.25 139.30,217.77 139.55,217.87 139.80,217.25 140.05,217.45 140.30,217.54 140.55,215.85 140.80,216.22 141.05,216.07 141.30,218.18 141.55,217.00 141.80,216.99 142.05,216.76 142.30,216.14 142.55,215.90 142.80,217.12 143.05,216.07 143.30,217.59 143.55,216.42 143.80,216.28 144.05,215.98 144.30,216.05 144.55,216.10 144.80,217.25 145.05,217.87 145.30,215.04 145.55,216.14 145.80,216.49 146.05,215.18 146.30,215.38 146.55,215.51 146.80,213.93 147.05,216.37 147.30,215.80 147.55,215.75 147.80,215.88 148.05,216.01 148.30,217.65 148.55,215.93 148.80,216.45 149.05,215.35 149.30,216.04 149.55,215.50 149.80,215.62 150.05,215.01 150.30,215.08 150.55,216.09 150.80,216.32 151.05,216.09 151.30,215.18 151.55,215.97 151.80,213.68 152.05,216.47 152.30,215.68 152.55,215.93 152.80,216.65 153.05,215.38 153.30,216.49 153.55,215.37 153.80,216.16 154.05,215.40 154.30,215.97 154.55,216.90 154.80,215.22 155.05,215.25 155.30,215.49 155.55,216.00 155.80,217.97 156.05,215.31 156.30,214.14 156.55,215.26 156.80,214.52 157.05,215.35 157.30,215.83 157.55,215.05 157.80,215.28 158.05,214.34 158.30,216.00 158.55,215.26 158.80,216.74 159.05,216.73 159.30,215.20 159.55,215.61 159.80,215.96 160.05,216.54 160.30,214.60 160.55,215.90 160.80,217.48 161.05,215.94 161.30,216.22 161.55,216.07 161.80,215.15 162.05,216.90 162.30,216.40 162.55,216.35 162.80,216.85 163.05,216.94 163.30,214.84 163.55,216.80 163.80,215.99 164.05,216.64 164.30,215.99 164.55,215.92 164.80,217.44 165.05,216.72 165.30,216.56 165.55,216.61 165.80,216.96 166.05,216.94 166.30,215.11 166.55,216.36 166.80,216.92 167.05,217.76 167.30,218.31 167.55,216.51 167.80,218.86 168.05,217.43 168.30,217.80 168.55,217.02 168.80,217.01 169.05,218.70 169.30,217.42 169.55,217.57 169.80,218.63 170.05,219.13 170.30,216.60 170.55,217.70 170.80,217.90 171.05,219.41 171.30,219.99 171.55,218.02 171.80,218.41 172.05,218.86 172.30,219.14 172.55,218.01 172.80,219.01 173.05,217.81 173.30,216.28 173.55,217.37 173.80,218.70 174.05,219.20 174.30,216.81 174.55,217.22 174.80,218.69 175.05,216.05 175.30,219.25 175.55,219.68 175.80,216.50 176.05,219.55 176.30,218.82 176.55,220.15 176.80,219.27 177.05,218.89 177.30,219.21 177.55,219.90 177.80,219.33 178.05,219.24 178.30,218.08 178.55,219.65 178.80,219.32 179.05,220.79 179.30,219.34 179.55,219.31 179.80,218.90 180.05,220.01 180.30,219.29 180.55,218.92 180.80,220.80 181.05,220.97 181.30,219.20 181.55,218.77 181.80,220.52 182.05,218.97 182.30,221.93 182.55,219.58 182.80,220.48 183.05,218.69 183.30,219.73 183.55,220.66 183.80,220.15 184.05,219.39 184.30,221.81 184.55,220.45 184.80,219.69 185.05,219.41 185.30,219.69 185.55,221.01 185.80,219.32 186.05,219.98 186.30,219.31 186.55,220.98 186.80,219.85 187.05,220.69 187.30,220.46 187.55,219.54 187.80,220.58 188.05,220.77 188.30,219.10 188.55,220.59 188.80,222.89 189.05,219.79 189.30,220.54 189.55,218.95 189.80,220.39 190.05,219.55 190.30,220.64 190.55,219.98 190.80,219.08 191.05,220.91 191.30,219.85 191.55,219.21 191.80,220.08 192.05,219.25 192.30,220.34 192.55,219.97 192.80,219.73 193.05,220.56 193.30,218.99 193.55,220.81 193.80,218.41 194.05,221.32 194.30,220.17 194.55,219.81 194.80,219.43 195.05,220.47 195.30,219.90 195.55,219.88 195.80,220.86 196.05,219.67 196.30,219.83 196.55,220.37 196.80,220.89 197.05,219.90 197.30,220.15 197.55,220.06 197.80,220.63 198.05,221.23 198.30,219.27 198.55,219.92 198.80,219.99 199.05,220.50 199.30,221.24 199.55,220.01 199.80,220.20 200.05,220.94 200.30,219.02 200.55,219.40 200.80,219.66 201.05,220.01 201.30,220.20 201.55,219.59 201.80,221.42 202.05,219.43 202.30,219.83 202.55,220.86 202.80,220.60 203.05,219.96 203.30,220.26 203.55,220.61 203.80,219.93 204.05,220.45 204.30,219.17 204.55,219.96 204.80,218.55 205.05,219.15 205.30,218.93 205.55,220.85 205.80,219.45 206.05,220.05 206.30,219.04 206.55,219.60 206.80,219.52 207.05,219.04 207.30,220.41 207.55,218.34 207.80,220.17 208.05,221.80 208.30,218.95 208.55,219.62 208.80,218.30 209.05,219.52 209.30,218.11 209.55,220.00 209.80,219.05 210.05,217.90 210.30,218.28 210.55,217.96 210.80,218.93 211.05,219.76 211.30,218.64 211.55,217.89 211.80,218.05 212.05,218.71 212.30,216.51 212.55,218.85 212.80,218.59 213.05,216.14 213.30,218.99 213.55,216.59 213.80,217.65 214.05,218.69 214.30,216.31 214.55,216.04 214.80,216.54 215.05,216.48 215.30,217.16 215.55,216.75 215.80,216.68 216.05,216.60 216.30,216.75 216.55,216.11 216.80,216.99 217.05,216.63 217.30,215.72 217.55,217.96 217.80,215.35 218.05,216.92 218.30,215.64 218.55,216.48 218.80,216.55 219.05,216.77 219.30,217.18 219.55,215.29 219.80,218.28 220.05,216.24 220.30,215.21 220.55,214.73 220.80,217.73 221.05,217.13 221.30,215.74 221.55,216.34 221.80,216.77 222.05,215.74 222.30,215.29 222.55,215.58 222.80,216.27 223.05,215.57 223.30,214.52 223.55,216.12 223.80,214.07 224.05,214.84 224.30,216.45 224.55,215.61 224.80,215.58 225.05,215.46 225.30,216.20 225.55,215.30 225.80,213.73 226.05,215.51 226.30,212.79 226.55,213.61 226.80,216.58 227.05,216.12 227.30,214.89 227.55,215.20 227.80,215.33 228.05,216.08 228.30,214.63 228.55,214.54 228.80,214.74 229.05,215.37 229.30,215.47 229.55,214.93 229.80,215.88 230.05,214.42 230.30,215.19 230.55,214.69 230.80,214.43 231.05,216.26 231.30,215.00 231.55,214.43 231.80,215.29 232.05,214.44 232.30,215.74 232.55,215.95 232.80,216.10 233.05,214.39 233.30,215.14 233.55,216.77 233.80,215.08 234.05,216.29 234.30,216.51 234.55,214.13 234.80,216.25 235.05,215.88 235.30,215.98 235.55,216.64 235.80,215.64 236.05,215.32 236.30,215.76 236.55,214.98 236.80,215.67 237.05,213.63 237.30,216.71 237.55,214.88 237.80,215.77 238.05,215.61 238.30,215.47 238.55,215.51 238.80,215.51 239.05,214.16 239.30,215.09 239.55,216.56 239.80,214.80 240.05,214.82 240.30,217.46 240.55,216.77 240.80,217.12 241.05,215.88 241.30,216.17 241.55,216.63 241.80,216.53 242.05,216.05 242.30,214.98 242.55,215.64 242.80,215.06 243.05,217.64 243.30,216.08 243.55,216.31 243.80,216.74 244.05,216.58 244.30,217.04 244.55,216.15 244.80,215.46 245.05,218.18 245.30,216.21 245.55,216.45 245.80,216.24 246.05,216.48 246.30,216.99 246.55,217.63 246.80,216.21 247.05,217.35 247.30,216.62 247.55,218.19 247.80,216.26 248.05,217.39 248.30,217.94 248.55,216.30 248.80,217.54 249.05,217.62 249.30,216.90 249.55,217.42 249.80,218.45 250.05,217.89 250.30,217.41 250.55,217.62 250.80,218.20 251.05,218.91 251.30,218.57 251.55,218.57 251.80,219.29 252.05,216.81 252.30,216.94 252.55,216.31 252.80,218.86 253.05,216.38 253.30,218.23 253.55,218.92 253.80,217.22 254.05,217.85 254.30,218.20 254.55,219.04 254.80,217.26 255.05,218.77 255.30,219.11 255.55,218.69 255.80,218.74 256.05,219.65 256.30,218.85 256.55,218.68 256.80,218.46 257.05,219.29 257.30,218.56 257.55,219.35 257.80,218.93 258.05,219.79 258.30,218.27 258.55,219.00 258.80,219.25 259.05,219.32 259.30,219.93 259.55,219.36 259.80,219.80 260.05,220.67 260.30,219.80 260.55,218.30 260.80,218.03 261.05,219.74 261.30,218.92 261.55,219.48 261.80,219.13 262.05,220.34 262.30,220.27 262.55,218.43 262.80,219.57 263.05,219.13 263.30,218.34 263.55,219.93 263.80,219.31 264.05,219.80 264.30,221.45 264.55,220.54 264.80,220.38 265.05,219.18 265.30,218.57 265.55,220.53 265.80,219.30 266.05,219.60 266.30,219.27 266.55,219.67 266.80,221.53 267.05,219.36 267.30,219.40 267.55,219.80 267.80,219.88 268.05,218.70 268.30,218.25 268.55,219.22 268.80,219.52 269.05,219.07 269.30,218.91 269.55,218.97 269.80,219.42 270.05,219.65 270.30,218.44 270.55,219.32 270.80,220.05 271.05,219.68 271.30,218.70 271.55,219.51 271.80,219.79 272.05,220.43 272.30,218.52 272.55,220.38 272.80,219.47 273.05,220.01 273.30,220.40 273.55,219.17 273.80,219.22 274.05,219.79 274.30,220.46 274.55,219.46 274.80,218.77 275.05,219.35 275.30,220.22 275.55,220.84 275.80,219.52 276.05,219.67 276.30,219.79 276.55,219.83 276.80,219.19 277.05,219.60 277.30,220.13 277.55,220.04 277.80,219.98 278.05,219.17 278.30,219.54 278.55,219.41 278.80,220.82 279.05,221.15 279.30,220.27 279.55,221.27 279.80,219.77 280.05,219.78 280.30,218.98 280.55,220.20 280.80,219.66 281.05,220.10 281.30,220.42 281.55,219.85 281.80,219.15 282.05,220.02 282.30,220.00 282.55,220.08 282.80,220.60 283.05,219.90 283.30,219.87 283.55,221.46 283.80,220.94 284.05,220.02 284.30,219.36 284.55,219.75 284.80,220.41 285.05,220.78 285.30,222.03 285.55,219.93 285.80,220.26 286.05,219.86 286.30,220.21 286.55,219.85 286.80,219.31 287.05,220.97 287.30,220.27 287.55,221.19 287.80,219.78 288.05,220.39 288.30,220.71 288.55,218.71 288.80,219.16 289.05,220.80 289.30,220.29 289.55,218.76 289.80,219.64 290.05,219.39 290.30,219.85 290.55,221.46 290.80,219.79 291.05,221.85 291.30,220.05 291.55,219.67 291.80,221.50 292.05,221.01 292.30,221.36 292.55,221.81 292.80,221.12 293.05,221.25 293.30,218.93 293.55,219.64 293.80,220.65 294.05,220.47 294.30,220.88 294.55,219.94 294.80,221.20 295.05,221.92 295.30,220.79 295.55,220.99 295.80,220.74 296.05,221.08 296.30,220.52 296.55,219.95 296.80,220.51 297.05,220.44 297.30,219.15 297.55,220.55 297.80,220.39 298.05,220.53 298.30,219.94 298.55,220.76 298.80,220.87 299.05,219.82 299.30,220.64 299.55,221.00 299.80,220.97 300.05,219.66 300.30,219.58 300.55,220.41 300.80,219.56 301.05,222.37 301.30,219.75 301.55,219.76 301.80,220.90 302.05,220.01 302.30,218.53 302.55,220.26 302.80,219.60 303.05,219.96 303.30,219.10 303.55,219.66 303.80,220.24 304.05,220.31 304.30,219.49 304.55,219.80 304.80,219.69 305.05,220.47 305.30,220.24 305.55,219.37 305.80,220.86 306.05,219.80 306.30,220.66 306.55,219.63 306.80,220.59 307.05,220.26 307.30,220.40 307.55,220.75 307.80,220.70 308.05,220.48 308.30,220.48 308.55,219.35 308.80,220.30 309.05,218.62 309.30,218.58 309.55,220.11 309.80,220.18 310.05,221.53 310.10,220.88" fill="none" stroke="#959595" stroke-width="1.9" stroke-linejoin="round" stroke-linecap="round" />
<rect x="28.4" y="12.0" width="281.70000000000005" height="228.2" fill="none" stroke="#5e5e5e" stroke-width="1.1"/>
<line x1="28.40" y1="88.20" x2="310.10" y2="88.20" stroke="#5e5e5e" stroke-width="1" />
<line x1="75.35" y1="88.20" x2="75.35" y2="91.70" stroke="#5e5e5e" stroke-width="1" />
<line x1="122.30" y1="88.20" x2="122.30" y2="91.70" stroke="#5e5e5e" stroke-width="1" />
<line x1="169.25" y1="88.20" x2="169.25" y2="91.70" stroke="#5e5e5e" stroke-width="1" />
<line x1="216.20" y1="88.20" x2="216.20" y2="91.70" stroke="#5e5e5e" stroke-width="1" />
<line x1="263.15" y1="88.20" x2="263.15" y2="91.70" stroke="#5e5e5e" stroke-width="1" />
<line x1="28.40" y1="164.30" x2="310.10" y2="164.30" stroke="#5e5e5e" stroke-width="1" />
<line x1="75.35" y1="164.30" x2="75.35" y2="167.80" stroke="#5e5e5e" stroke-width="1" />
<line x1="122.30" y1="164.30" x2="122.30" y2="167.80" stroke="#5e5e5e" stroke-width="1" />
<line x1="169.25" y1="164.30" x2="169.25" y2="167.80" stroke="#5e5e5e" stroke-width="1" />
<line x1="216.20" y1="164.30" x2="216.20" y2="167.80" stroke="#5e5e5e" stroke-width="1" />
<line x1="263.15" y1="164.30" x2="263.15" y2="167.80" stroke="#5e5e5e" stroke-width="1" />
<line x1="28.40" y1="240.20" x2="28.40" y2="246.00" stroke="#5e5e5e" stroke-width="1" />
<text x="28.40" y="258.80" font-size="14" fill="#000" text-anchor="middle" >0</text>
<line x1="75.35" y1="240.20" x2="75.35" y2="246.00" stroke="#5e5e5e" stroke-width="1" />
<text x="75.35" y="258.80" font-size="14" fill="#000" text-anchor="middle" >5</text>
<line x1="122.30" y1="240.20" x2="122.30" y2="246.00" stroke="#5e5e5e" stroke-width="1" />
<text x="122.30" y="258.80" font-size="14" fill="#000" text-anchor="middle" >10</text>
<line x1="169.25" y1="240.20" x2="169.25" y2="246.00" stroke="#5e5e5e" stroke-width="1" />
<text x="169.25" y="258.80" font-size="14" fill="#000" text-anchor="middle" >15</text>
<line x1="216.20" y1="240.20" x2="216.20" y2="246.00" stroke="#5e5e5e" stroke-width="1" />
<text x="216.20" y="258.80" font-size="14" fill="#000" text-anchor="middle" >20</text>
<line x1="263.15" y1="240.20" x2="263.15" y2="246.00" stroke="#5e5e5e" stroke-width="1" />
<text x="263.15" y="258.80" font-size="14" fill="#000" text-anchor="middle" >25</text>
<line x1="310.10" y1="240.20" x2="310.10" y2="246.00" stroke="#5e5e5e" stroke-width="1" />
<text x="310.10" y="258.80" font-size="14" fill="#000" text-anchor="middle" >30</text>
<text x="169.30" y="279.00" font-size="14.2" fill="#000" text-anchor="middle" >Time (min)</text>
<text x="19.30" y="126.80" font-size="14.5" fill="#000" text-anchor="middle" transform="rotate(-90 19.3 126.8)">Ion current (A)</text>
<text x="0.80" y="19.00" font-size="24.5" fill="#000" text-anchor="start" >a</text>
<text x="338.30" y="19.00" font-size="24.5" fill="#000" text-anchor="start" >b</text>
<text x="1.80" y="305.40" font-size="24.5" fill="#000" text-anchor="start" >c</text>
<text x="228.00" y="305.40" font-size="24.5" fill="#000" text-anchor="start" >d</text>
<text x="457.20" y="305.40" font-size="24.5" fill="#000" text-anchor="start" >e</text>
<polyline points="35.00,18.50 31.70,18.50 31.70,41.30 35.00,41.30" fill="none" stroke="#999" stroke-width="1.1"/>
<text x="36.80" y="34.20" font-size="14.3" fill="#000">1 × 10<tspan font-size="10.5" dy="-5.8">−13</tspan></text>
<polyline points="35.00,94.70 31.70,94.70 31.70,116.50 35.00,116.50" fill="none" stroke="#999" stroke-width="1.1"/>
<text x="36.80" y="110.40" font-size="14.3" fill="#000">3 × 10<tspan font-size="10.5" dy="-5.8">−12</tspan></text>
<polyline points="35.00,169.60 31.70,169.60 31.70,191.90 35.00,191.90" fill="none" stroke="#999" stroke-width="1.1"/>
<text x="36.80" y="185.30" font-size="14.3" fill="#000">1 × 10<tspan font-size="10.5" dy="-5.8">−13</tspan></text>
<text x="304.50" y="25.90" font-size="14.5" fill="#70a192" text-anchor="end" >m/z = 28</text>
<text x="305.10" y="103.30" font-size="14.2" fill="#e8aa72" text-anchor="end" >m/z = 28</text>
<text x="305.10" y="179.70" font-size="14.2" fill="#7c7c7c" text-anchor="end" >m/z = 28</text>
<text x="306.10" y="83.90" font-size="14.5" fill="#70a192" text-anchor="end" >Cu</text>
<text x="306.3" y="158.8" font-size="14.2" fill="#e8aa72" text-anchor="end">PdH<tspan font-size="9.5" dy="1.8">x</tspan><tspan dy="-1.8">/Cu − PdH<tspan font-size="9.5" dy="1.8">x</tspan><tspan dy="-1.8">/rGO</tspan></text>
<text x="305.8" y="235.0" font-size="14.3" fill="#7f7f7f" text-anchor="end">PPh<tspan font-size="9.5" dy="1.8">3</tspan><tspan dy="-1.8">-PdH<tspan font-size="9.5" dy="1.8">x</tspan><tspan dy="-1.8">/Cu</tspan></text>
<path d="M394.50,80.50 C393.60,79.62 394.08,77.15 394.60,75.20 C395.12,73.25 395.77,71.07 397.60,68.80 C399.43,66.53 401.72,63.77 405.60,61.60 C409.48,59.43 414.95,57.28 420.90,55.80 C426.85,54.32 433.47,53.67 441.30,52.70 C449.13,51.73 459.78,50.57 467.90,50.00 C476.02,49.43 481.32,49.47 490.00,49.30 C498.68,49.13 510.68,49.45 520.00,49.00 C529.32,48.55 536.48,47.55 545.90,46.60 C555.32,45.65 567.98,44.50 576.50,43.30 C585.02,42.10 591.20,40.87 597.00,39.40 C602.80,37.93 607.22,36.08 611.30,34.50 C615.38,32.92 619.73,30.07 621.50,29.90 C623.27,29.73 621.98,31.48 621.90,33.50 C621.82,35.52 621.38,39.17 621.00,42.00 C620.62,44.83 620.27,47.67 619.60,50.50 C618.93,53.33 617.97,56.50 617.00,59.00 C616.03,61.50 615.27,63.73 613.80,65.50 C612.33,67.27 610.42,68.75 608.20,69.60 C605.98,70.45 603.20,70.52 600.50,70.60 C597.80,70.68 595.53,70.40 592.00,70.10 C588.47,69.80 583.13,69.13 579.30,68.80 C575.47,68.47 572.07,68.25 569.00,68.10 C565.93,67.95 564.88,67.90 560.90,67.90 C556.92,67.90 549.92,67.97 545.10,68.10 C540.28,68.23 536.38,68.80 532.00,68.70 C527.62,68.60 523.63,67.77 518.80,67.50 C513.97,67.23 508.25,67.03 503.00,67.10 C497.75,67.17 492.55,67.25 487.30,67.90 C482.05,68.55 476.75,69.90 471.50,71.00 C466.25,72.10 461.05,73.57 455.80,74.50 C450.55,75.43 445.82,75.78 440.00,76.60 C434.18,77.42 427.57,78.75 420.90,79.40 C414.23,80.05 404.40,80.32 400.00,80.50 C395.60,80.68 395.40,81.38 394.50,80.50 Z" fill="none" stroke="#70a192" stroke-width="1.35" stroke-linejoin="round" stroke-linecap="round" />
<clipPath id="cpb2"><rect x="362" y="88.3" width="282" height="75.4"/></clipPath>
<path d="M398.00,166.50 C402.00,163.87 406.18,160.82 410.00,158.60 C413.82,156.38 415.68,155.80 420.90,153.20 C426.12,150.60 435.62,145.95 441.30,143.00 C446.98,140.05 451.30,137.58 455.00,135.50 C458.70,133.42 461.18,131.68 463.50,130.50 C465.82,129.32 466.98,128.52 468.90,128.40 C470.82,128.28 472.78,129.38 475.00,129.80 C477.22,130.22 477.60,130.53 482.20,130.90 C486.80,131.27 496.30,131.98 502.60,132.00 C508.90,132.02 515.10,131.58 520.00,131.00 C524.90,130.42 527.68,129.60 532.00,128.50 C536.32,127.40 541.57,125.68 545.90,124.40 C550.23,123.12 554.60,121.87 558.00,120.80 C561.40,119.73 563.55,119.13 566.30,118.00 C569.05,116.87 572.02,115.27 574.50,114.00 C576.98,112.73 578.48,110.92 581.20,110.40 C583.92,109.88 587.83,110.73 590.80,110.90 C593.77,111.07 595.58,111.65 599.00,111.40 C602.42,111.15 607.58,110.17 611.30,109.40 C615.02,108.63 619.58,106.28 621.30,106.80 C623.02,107.32 621.72,110.13 621.60,112.50 C621.48,114.87 621.00,118.25 620.60,121.00 C620.20,123.75 620.07,125.87 619.20,129.00 C618.33,132.13 616.77,137.22 615.40,139.80 C614.03,142.38 612.37,143.25 611.00,144.50 C609.63,145.75 609.53,146.17 607.20,147.30 C604.87,148.43 602.12,149.97 597.00,151.30 C591.88,152.63 585.02,154.18 576.50,155.30 C567.98,156.42 555.32,157.37 545.90,158.00 C536.48,158.63 527.22,158.85 520.00,159.10 C512.78,159.35 507.60,159.30 502.60,159.50 C497.60,159.70 494.10,159.80 490.00,160.30 C485.90,160.80 481.33,161.47 478.00,162.50 C474.67,163.53 472.67,165.17 470.00,166.50" fill="none" stroke="#e8aa72" stroke-width="1.5" stroke-linejoin="round" stroke-linecap="round" clip-path="url(#cpb2)"/>
<path d="M394.00,224.80 C393.48,222.70 393.85,215.38 393.90,212.00 C393.95,208.62 393.90,207.17 394.30,204.50 C394.70,201.83 394.93,198.25 396.30,196.00 C397.67,193.75 399.43,192.25 402.50,191.00 C405.57,189.75 408.23,189.15 414.70,188.50 C421.17,187.85 430.42,187.52 441.30,187.10 C452.18,186.68 466.88,186.37 480.00,186.00 C493.12,185.63 509.02,185.43 520.00,184.90 C530.98,184.37 535.80,183.57 545.90,182.80 C556.00,182.03 571.07,181.12 580.60,180.30 C590.13,179.48 596.48,178.77 603.10,177.90 C609.72,177.03 617.22,175.17 620.30,175.10 C623.38,175.03 621.40,175.35 621.60,177.50 C621.80,179.65 621.87,185.02 621.50,188.00 C621.13,190.98 620.77,193.13 619.40,195.40 C618.03,197.67 616.37,199.85 613.30,201.60 C610.23,203.35 607.13,204.67 601.00,205.90 C594.87,207.13 585.68,208.15 576.50,209.00 C567.32,209.85 555.32,210.37 545.90,211.00 C536.48,211.63 534.03,211.95 520.00,212.80 C505.97,213.65 478.22,214.93 461.70,216.10 C445.18,217.27 431.68,218.38 420.90,219.80 C410.12,221.22 401.48,223.77 397.00,224.60 C392.52,225.43 394.52,226.90 394.00,224.80 Z" fill="none" stroke="#8a8a8a" stroke-width="1.35" stroke-linejoin="round" stroke-linecap="round" />
<path d="M474.50,38.30 Q471.60,39.80 470.90,43.00" fill="none" stroke="#70a192" stroke-width="1.3" stroke-linejoin="round" stroke-linecap="round" />
<polygon points="469.50,47.70 466.00,43.10 474.60,44.40" fill="#70a192" stroke="#70a192" stroke-width="0.6" stroke-linejoin="round"/>
<path d="M459.00,116.60 Q459.40,122.50 463.90,125.00" fill="none" stroke="#e8aa72" stroke-width="1.3" stroke-linejoin="round" stroke-linecap="round" />
<polygon points="467.40,127.80 466.00,122.00 462.30,128.40" fill="#e8aa72" stroke="#e8aa72" stroke-width="0.6" stroke-linejoin="round"/>
<path d="M566.60,103.70 Q568.50,108.50 573.40,109.90" fill="none" stroke="#e8aa72" stroke-width="1.3" stroke-linejoin="round" stroke-linecap="round" />
<polygon points="576.90,111.20 574.90,106.30 572.30,113.30" fill="#e8aa72" stroke="#e8aa72" stroke-width="0.6" stroke-linejoin="round"/>
<path d="M473.40,175.20 Q470.00,176.30 469.60,180.00" fill="none" stroke="#8a8a8a" stroke-width="1.3" stroke-linejoin="round" stroke-linecap="round" />
<polygon points="468.40,184.60 465.00,180.00 473.00,181.10" fill="#8a8a8a" stroke="#8a8a8a" stroke-width="0.6" stroke-linejoin="round"/>
<path d="M586.40,170.20 Q583.00,171.30 582.60,175.00" fill="none" stroke="#8a8a8a" stroke-width="1.3" stroke-linejoin="round" stroke-linecap="round" />
<polygon points="581.60,179.60 578.10,175.30 586.40,176.40" fill="#8a8a8a" stroke="#8a8a8a" stroke-width="0.6" stroke-linejoin="round"/>
<rect x="362.5" y="12.0" width="281.5" height="227.8" fill="none" stroke="#5e5e5e" stroke-width="1.1"/>
<line x1="362.50" y1="87.80" x2="644.00" y2="87.80" stroke="#5e5e5e" stroke-width="1" />
<line x1="425.00" y1="87.80" x2="425.00" y2="91.30" stroke="#5e5e5e" stroke-width="1" />
<line x1="487.50" y1="87.80" x2="487.50" y2="91.30" stroke="#5e5e5e" stroke-width="1" />
<line x1="550.00" y1="87.80" x2="550.00" y2="91.30" stroke="#5e5e5e" stroke-width="1" />
<line x1="612.50" y1="87.80" x2="612.50" y2="91.30" stroke="#5e5e5e" stroke-width="1" />
<line x1="362.50" y1="164.20" x2="644.00" y2="164.20" stroke="#5e5e5e" stroke-width="1" />
<line x1="425.00" y1="164.20" x2="425.00" y2="167.70" stroke="#5e5e5e" stroke-width="1" />
<line x1="487.50" y1="164.20" x2="487.50" y2="167.70" stroke="#5e5e5e" stroke-width="1" />
<line x1="550.00" y1="164.20" x2="550.00" y2="167.70" stroke="#5e5e5e" stroke-width="1" />
<line x1="612.50" y1="164.20" x2="612.50" y2="167.70" stroke="#5e5e5e" stroke-width="1" />
<line x1="362.50" y1="239.80" x2="362.50" y2="245.60" stroke="#5e5e5e" stroke-width="1" />
<text x="362.50" y="258.80" font-size="14" fill="#000" text-anchor="middle" >0.2</text>
<line x1="425.00" y1="239.80" x2="425.00" y2="245.60" stroke="#5e5e5e" stroke-width="1" />
<text x="425.00" y="258.80" font-size="14" fill="#000" text-anchor="middle" >0.4</text>
<line x1="487.50" y1="239.80" x2="487.50" y2="245.60" stroke="#5e5e5e" stroke-width="1" />
<text x="487.50" y="258.80" font-size="14" fill="#000" text-anchor="middle" >0.6</text>
<line x1="550.00" y1="239.80" x2="550.00" y2="245.60" stroke="#5e5e5e" stroke-width="1" />
<text x="550.00" y="258.80" font-size="14" fill="#000" text-anchor="middle" >0.8</text>
<line x1="612.50" y1="239.80" x2="612.50" y2="245.60" stroke="#5e5e5e" stroke-width="1" />
<text x="612.50" y="258.80" font-size="14" fill="#000" text-anchor="middle" >1.0</text>
<text x="504.30" y="278.80" font-size="14.4" fill="#000" text-anchor="middle" >E - iR (V vs. RHE)</text>
<text transform="rotate(-90 349.6 125.4)" x="349.6" y="125.4" font-size="14.5" text-anchor="middle"><tspan font-style="italic">j</tspan> (mA cm<tspan font-size="9.5" dy="-5.5">−2</tspan><tspan dy="5.5">)</tspan></text>
<polyline points="369.40,18.10 366.40,18.10 366.40,37.70 369.40,37.70" fill="none" stroke="#666" stroke-width="1.1"/>
<text x="370.60" y="32.70" font-size="14.5" fill="#000" text-anchor="start" >10.0</text>
<polyline points="369.40,94.10 366.40,94.10 366.40,114.30 369.40,114.30" fill="none" stroke="#666" stroke-width="1.1"/>
<text x="370.60" y="109.40" font-size="14.5" fill="#000" text-anchor="start" >10.0</text>
<polyline points="369.40,170.10 366.40,170.10 366.40,189.70 369.40,189.70" fill="none" stroke="#666" stroke-width="1.1"/>
<text x="370.60" y="184.70" font-size="14.5" fill="#000" text-anchor="start" >10.0</text>
<text x="432.00" y="32.60" font-size="14.5" fill="#70a192" text-anchor="start" >CO stripping on Cu</text>
<text x="509.40" y="63.60" font-size="14.5" fill="#70a192" text-anchor="middle" >Cu</text>
<text x="401.20" y="114.80" font-size="14.5" fill="#e8aa72" text-anchor="start" >CO stripping on Cu</text>
<text x="641.2" y="101.9" font-size="14.5" fill="#e8aa72" text-anchor="end">CO stripping on PdH<tspan font-size="9.5" dy="1.8">x</tspan><tspan dy="-1.8"></tspan></text>
<text x="508.1" y="150.0" font-size="14.5" fill="#e8aa72" text-anchor="middle">PdH<tspan font-size="9.5" dy="1.8">x</tspan><tspan dy="-1.8">/Cu</tspan></text>
<text x="509.2" y="204.5" font-size="14.5" fill="#7f7f7f" text-anchor="middle">PPh<tspan font-size="9.5" dy="1.8">3</tspan><tspan dy="-1.8">-PdH<tspan font-size="9.5" dy="1.8">x</tspan><tspan dy="-1.8">/Cu</tspan></text>
<polyline points="28.40,437.00 28.90,436.70 29.40,436.40 29.90,436.10 30.40,435.80 30.90,435.50 31.40,435.19 31.90,434.89 32.40,434.59 32.90,434.29 33.40,433.99 33.90,433.69 34.40,433.39 34.90,433.09 35.40,432.78 35.90,432.48 36.40,432.18 36.90,431.88 37.40,431.58 37.90,431.27 38.40,430.97 38.90,430.67 39.40,430.36 39.90,430.06 40.40,429.76 40.90,429.45 41.40,429.15 41.90,428.84 42.40,428.54 42.90,428.23 43.40,427.93 43.90,427.62 44.40,427.32 44.90,427.01 45.40,426.70 45.90,426.40 46.40,426.09 46.90,425.78 47.40,425.47 47.90,425.16 48.40,424.85 48.90,424.54 49.40,424.23 49.90,423.92 50.40,423.61 50.90,423.30 51.40,422.99 51.90,422.67 52.40,422.36 52.90,422.05 53.40,421.73 53.90,421.42 54.40,421.11 54.90,420.79 55.40,420.48 55.90,420.16 56.40,419.85 56.90,419.54 57.40,419.22 57.90,418.91 58.40,418.60 58.90,418.29 59.40,417.98 59.90,417.68 60.40,417.37 60.90,417.06 61.40,416.76 61.90,416.46 62.40,416.16 62.90,415.86 63.40,415.56 63.90,415.27 64.40,414.97 64.90,414.68 65.40,414.39 65.90,414.10 66.40,413.81 66.90,413.53 67.40,413.24 67.90,412.95 68.40,412.66 68.90,412.38 69.40,412.09 69.90,411.80 70.40,411.51 70.90,411.22 71.40,410.93 71.90,410.64 72.40,410.34 72.90,410.05 73.40,409.75 73.90,409.45 74.40,409.15 74.90,408.85 75.40,408.54 75.90,408.23 76.40,407.92 76.90,407.60 77.40,407.29 77.90,406.97 78.40,406.65 78.90,406.33 79.40,406.01 79.90,405.69 80.40,405.37 80.90,405.05 81.40,404.74 81.90,404.42 82.40,404.10 82.90,403.79 83.40,403.48 83.90,403.17 84.40,402.86 84.90,402.56 85.40,402.26 85.90,401.96 86.40,401.67 86.90,401.37 87.40,401.07 87.90,400.76 88.40,400.45 88.90,400.14 89.40,399.81 89.90,399.48 90.40,399.13 90.90,398.77 91.40,398.39 91.90,398.00 92.40,397.59 92.90,397.17 93.40,396.73 93.90,396.30 94.40,395.86 94.90,395.42 95.40,395.00 95.90,394.58 96.40,394.18 96.90,393.80 97.40,393.45 97.90,393.12 98.40,392.82 98.90,392.55 99.40,392.32 99.90,392.12 100.40,391.95 100.90,391.80 101.40,391.68 101.90,391.58 102.40,391.49 102.90,391.41 103.40,391.35 103.90,391.28 104.40,391.23 104.90,391.18 105.40,391.13 105.90,391.09 106.40,391.05 106.90,391.01 107.40,390.97 107.90,390.94 108.40,390.90 108.90,390.86 109.40,390.82 109.90,390.78 110.40,390.74 110.90,390.70 111.40,390.65 111.90,390.61 112.40,390.56 112.90,390.51 113.40,390.47 113.90,390.42 114.40,390.36 114.90,390.31 115.40,390.26 115.90,390.20 116.40,390.14 116.90,390.08 117.40,390.02 117.90,389.96 118.40,389.89 118.90,389.82 119.40,389.75 119.90,389.67 120.40,389.59 120.90,389.51 121.40,389.42 121.90,389.33 122.40,389.24 122.90,389.14 123.40,389.04 123.90,388.93 124.40,388.81 124.90,388.70 125.40,388.58 125.90,388.45 126.40,388.32 126.90,388.19 127.40,388.06 127.90,387.92 128.40,387.78 128.90,387.63 129.40,387.48 129.90,387.33 130.40,387.18 130.90,387.02 131.40,386.86 131.90,386.70 132.40,386.54 132.90,386.37 133.40,386.20 133.90,386.03 134.40,385.86 134.90,385.69 135.40,385.52 135.90,385.34 136.40,385.16 136.90,384.98 137.40,384.80 137.90,384.62 138.40,384.44 138.90,384.25 139.40,384.07 139.90,383.88 140.40,383.69 140.90,383.50 141.40,383.31 141.90,383.12 142.40,382.93 142.90,382.74 143.40,382.54 143.90,382.35 144.40,382.15 144.90,381.95 145.40,381.76 145.90,381.56 146.40,381.36 146.90,381.16 147.40,380.96 147.90,380.76 148.40,380.56 148.90,380.36 149.40,380.15 149.90,379.95 150.40,379.74 150.90,379.54 151.40,379.33 151.90,379.12 152.40,378.91 152.90,378.70 153.40,378.49 153.90,378.28 154.40,378.07 154.90,377.86 155.40,377.64 155.90,377.42 156.40,377.21 156.90,376.99 157.40,376.77 157.90,376.54 158.40,376.32 158.90,376.10 159.40,375.87 159.90,375.64 160.40,375.41 160.90,375.18 161.40,374.95 161.90,374.72 162.40,374.48 162.90,374.24 163.40,374.00 163.90,373.76 164.40,373.52 164.90,373.27 165.40,373.03 165.90,372.78 166.40,372.53 166.90,372.27 167.40,372.02 167.90,371.76 168.40,371.50 168.90,371.23 169.40,370.97 169.90,370.70 170.40,370.43 170.90,370.16 171.40,369.88 171.90,369.60 172.40,369.32 172.90,369.04 173.40,368.76 173.90,368.48 174.40,368.19 174.90,367.91 175.40,367.62 175.90,367.34 176.40,367.05 176.90,366.76 177.40,366.48 177.90,366.19 178.40,365.91 178.90,365.62 179.40,365.34 179.90,365.06 180.40,364.78 180.90,364.49 181.40,364.22 181.90,363.94 182.40,363.66 182.90,363.39 183.40,363.11 183.90,362.84 184.40,362.56 184.90,362.29 185.40,362.02 185.90,361.75 186.40,361.48 186.90,361.20 187.40,360.93 187.90,360.66" fill="none" stroke="#cfe0da" stroke-width="1.85" stroke-linejoin="round" stroke-linecap="round" />
<polyline points="28.40,462.10 28.90,461.91 29.40,461.73 29.90,461.54 30.40,461.36 30.90,461.17 31.40,460.99 31.90,460.80 32.40,460.61 32.90,460.43 33.40,460.24 33.90,460.05 34.40,459.86 34.90,459.67 35.40,459.48 35.90,459.29 36.40,459.10 36.90,458.91 37.40,458.72 37.90,458.52 38.40,458.33 38.90,458.13 39.40,457.93 39.90,457.74 40.40,457.54 40.90,457.34 41.40,457.13 41.90,456.93 42.40,456.73 42.90,456.52 43.40,456.31 43.90,456.10 44.40,455.89 44.90,455.68 45.40,455.47 45.90,455.25 46.40,455.03 46.90,454.81 47.40,454.59 47.90,454.37 48.40,454.14 48.90,453.91 49.40,453.68 49.90,453.45 50.40,453.22 50.90,452.98 51.40,452.74 51.90,452.50 52.40,452.26 52.90,452.01 53.40,451.77 53.90,451.52 54.40,451.27 54.90,451.01 55.40,450.76 55.90,450.50 56.40,450.24 56.90,449.98 57.40,449.72 57.90,449.46 58.40,449.20 58.90,448.93 59.40,448.67 59.90,448.40 60.40,448.14 60.90,447.87 61.40,447.61 61.90,447.34 62.40,447.07 62.90,446.81 63.40,446.54 63.90,446.27 64.40,446.01 64.90,445.74 65.40,445.47 65.90,445.21 66.40,444.95 66.90,444.68 67.40,444.42 67.90,444.16 68.40,443.90 68.90,443.64 69.40,443.38 69.90,443.13 70.40,442.88 70.90,442.62 71.40,442.37 71.90,442.13 72.40,441.88 72.90,441.64 73.40,441.39 73.90,441.16 74.40,440.92 74.90,440.69 75.40,440.45 75.90,440.23 76.40,440.00 76.90,439.78 77.40,439.56 77.90,439.34 78.40,439.13 78.90,438.91 79.40,438.70 79.90,438.50 80.40,438.29 80.90,438.09 81.40,437.89 81.90,437.69 82.40,437.49 82.90,437.30 83.40,437.10 83.90,436.91 84.40,436.72 84.90,436.54 85.40,436.35 85.90,436.17 86.40,435.98 86.90,435.79 87.40,435.60 87.90,435.40 88.40,435.19 88.90,434.98 89.40,434.75 89.90,434.51 90.40,434.26 90.90,433.99 91.40,433.70 91.90,433.40 92.40,433.08 92.90,432.74 93.40,432.39 93.90,432.03 94.40,431.66 94.90,431.29 95.40,430.93 95.90,430.57 96.40,430.22 96.90,429.89 97.40,429.58 97.90,429.30 98.40,429.05 98.90,428.84 99.40,428.67 99.90,428.54 100.40,428.45 100.90,428.39 101.40,428.35 101.90,428.33 102.40,428.31 102.90,428.30 103.40,428.29 103.90,428.27 104.40,428.25 104.90,428.23 105.40,428.20 105.90,428.18 106.40,428.14 106.90,428.11 107.40,428.08 107.90,428.04 108.40,428.00 108.90,427.96 109.40,427.92 109.90,427.88 110.40,427.83 110.90,427.79 111.40,427.75 111.90,427.70 112.40,427.65 112.90,427.60 113.40,427.55 113.90,427.50 114.40,427.45 114.90,427.40 115.40,427.34 115.90,427.29 116.40,427.23 116.90,427.18 117.40,427.12 117.90,427.06 118.40,427.00 118.90,426.94 119.40,426.88 119.90,426.81 120.40,426.75 120.90,426.68 121.40,426.62 121.90,426.55 122.40,426.48 122.90,426.41 123.40,426.33 123.90,426.25 124.40,426.17 124.90,426.09 125.40,426.01 125.90,425.92 126.40,425.82 126.90,425.73 127.40,425.63 127.90,425.52 128.40,425.41 128.90,425.30 129.40,425.18 129.90,425.06 130.40,424.93 130.90,424.80 131.40,424.67 131.90,424.53 132.40,424.39 132.90,424.25 133.40,424.10 133.90,423.95 134.40,423.80 134.90,423.65 135.40,423.49 135.90,423.33 136.40,423.17 136.90,423.01 137.40,422.84 137.90,422.68 138.40,422.51 138.90,422.34 139.40,422.17 139.90,421.99 140.40,421.82 140.90,421.64 141.40,421.47 141.90,421.29 142.40,421.11 142.90,420.93 143.40,420.75 143.90,420.57 144.40,420.39 144.90,420.20 145.40,420.02 145.90,419.84 146.40,419.65 146.90,419.47 147.40,419.28 147.90,419.10 148.40,418.91 148.90,418.72 149.40,418.54 149.90,418.35 150.40,418.16 150.90,417.97 151.40,417.79 151.90,417.60 152.40,417.41 152.90,417.22 153.40,417.03 153.90,416.83 154.40,416.64 154.90,416.45 155.40,416.26 155.90,416.06 156.40,415.87 156.90,415.67 157.40,415.48 157.90,415.28 158.40,415.08 158.90,414.88 159.40,414.68 159.90,414.49 160.40,414.29 160.90,414.09 161.40,413.89 161.90,413.69 162.40,413.49 162.90,413.29 163.40,413.09 163.90,412.89 164.40,412.69 164.90,412.49 165.40,412.29 165.90,412.09 166.40,411.89 166.90,411.70 167.40,411.50 167.90,411.31 168.40,411.11 168.90,410.92 169.40,410.73 169.90,410.54 170.40,410.35 170.90,410.16 171.40,409.98 171.90,409.79 172.40,409.61 172.90,409.43 173.40,409.25 173.90,409.07 174.40,408.89 174.90,408.71 175.40,408.54 175.90,408.37 176.40,408.19 176.90,408.02 177.40,407.85 177.90,407.69 178.40,407.52 178.90,407.36 179.40,407.19 179.90,407.03 180.40,406.87 180.90,406.71 181.40,406.56 181.90,406.40 182.40,406.24 182.90,406.09 183.40,405.94 183.90,405.79 184.40,405.63 184.90,405.48 185.40,405.33 185.90,405.18 186.40,405.03 186.90,404.89 187.40,404.74 187.90,404.59" fill="none" stroke="#afcbc2" stroke-width="1.85" stroke-linejoin="round" stroke-linecap="round" />
<polyline points="28.40,487.40 28.90,487.20 29.40,487.00 29.90,486.80 30.40,486.60 30.90,486.40 31.40,486.20 31.90,486.00 32.40,485.80 32.90,485.60 33.40,485.40 33.90,485.20 34.40,485.01 34.90,484.81 35.40,484.61 35.90,484.41 36.40,484.21 36.90,484.02 37.40,483.82 37.90,483.62 38.40,483.43 38.90,483.23 39.40,483.03 39.90,482.84 40.40,482.64 40.90,482.45 41.40,482.26 41.90,482.06 42.40,481.87 42.90,481.67 43.40,481.48 43.90,481.28 44.40,481.08 44.90,480.88 45.40,480.68 45.90,480.48 46.40,480.28 46.90,480.08 47.40,479.87 47.90,479.66 48.40,479.45 48.90,479.24 49.40,479.03 49.90,478.81 50.40,478.59 50.90,478.36 51.40,478.14 51.90,477.91 52.40,477.67 52.90,477.44 53.40,477.20 53.90,476.96 54.40,476.71 54.90,476.47 55.40,476.22 55.90,475.97 56.40,475.72 56.90,475.47 57.40,475.22 57.90,474.97 58.40,474.72 58.90,474.47 59.40,474.23 59.90,473.98 60.40,473.73 60.90,473.49 61.40,473.25 61.90,473.01 62.40,472.78 62.90,472.55 63.40,472.32 63.90,472.09 64.40,471.87 64.90,471.65 65.40,471.43 65.90,471.22 66.40,471.01 66.90,470.80 67.40,470.59 67.90,470.38 68.40,470.17 68.90,469.97 69.40,469.76 69.90,469.56 70.40,469.36 70.90,469.15 71.40,468.95 71.90,468.74 72.40,468.53 72.90,468.32 73.40,468.11 73.90,467.90 74.40,467.69 74.90,467.47 75.40,467.26 75.90,467.04 76.40,466.81 76.90,466.59 77.40,466.36 77.90,466.13 78.40,465.90 78.90,465.67 79.40,465.43 79.90,465.20 80.40,464.96 80.90,464.73 81.40,464.49 81.90,464.26 82.40,464.02 82.90,463.78 83.40,463.55 83.90,463.31 84.40,463.08 84.90,462.85 85.40,462.61 85.90,462.38 86.40,462.16 86.90,461.93 87.40,461.70 87.90,461.47 88.40,461.25 88.90,461.03 89.40,460.80 89.90,460.58 90.40,460.36 90.90,460.14 91.40,459.92 91.90,459.70 92.40,459.48 92.90,459.26 93.40,459.05 93.90,458.84 94.40,458.63 94.90,458.43 95.40,458.23 95.90,458.04 96.40,457.85 96.90,457.68 97.40,457.51 97.90,457.36 98.40,457.23 98.90,457.12 99.40,457.03 99.90,456.96 100.40,456.91 100.90,456.87 101.40,456.84 101.90,456.82 102.40,456.81 102.90,456.80 103.40,456.79 103.90,456.78 104.40,456.77 104.90,456.76 105.40,456.75 105.90,456.73 106.40,456.71 106.90,456.69 107.40,456.66 107.90,456.63 108.40,456.60 108.90,456.56 109.40,456.52 109.90,456.47 110.40,456.42 110.90,456.37 111.40,456.31 111.90,456.25 112.40,456.18 112.90,456.11 113.40,456.04 113.90,455.97 114.40,455.89 114.90,455.82 115.40,455.74 115.90,455.65 116.40,455.57 116.90,455.48 117.40,455.39 117.90,455.30 118.40,455.21 118.90,455.11 119.40,455.01 119.90,454.91 120.40,454.80 120.90,454.69 121.40,454.58 121.90,454.47 122.40,454.35 122.90,454.23 123.40,454.10 123.90,453.97 124.40,453.84 124.90,453.71 125.40,453.58 125.90,453.44 126.40,453.30 126.90,453.15 127.40,453.01 127.90,452.86 128.40,452.72 128.90,452.57 129.40,452.42 129.90,452.26 130.40,452.11 130.90,451.96 131.40,451.80 131.90,451.65 132.40,451.50 132.90,451.34 133.40,451.19 133.90,451.03 134.40,450.88 134.90,450.72 135.40,450.57 135.90,450.42 136.40,450.26 136.90,450.11 137.40,449.96 137.90,449.80 138.40,449.65 138.90,449.50 139.40,449.35 139.90,449.19 140.40,449.04 140.90,448.89 141.40,448.73 141.90,448.58 142.40,448.42 142.90,448.27 143.40,448.11 143.90,447.96 144.40,447.80 144.90,447.64 145.40,447.49 145.90,447.33 146.40,447.17 146.90,447.01 147.40,446.85 147.90,446.69 148.40,446.52 148.90,446.36 149.40,446.20 149.90,446.04 150.40,445.88 150.90,445.71 151.40,445.55 151.90,445.39 152.40,445.23 152.90,445.07 153.40,444.91 153.90,444.75 154.40,444.60 154.90,444.44 155.40,444.28 155.90,444.13 156.40,443.98 156.90,443.83 157.40,443.68 157.90,443.53 158.40,443.38 158.90,443.24 159.40,443.10 159.90,442.96 160.40,442.82 160.90,442.68 161.40,442.54 161.90,442.40 162.40,442.27 162.90,442.13 163.40,441.99 163.90,441.85 164.40,441.71 164.90,441.58 165.40,441.44 165.90,441.29 166.40,441.15 166.90,441.01 167.40,440.86 167.90,440.72 168.40,440.57 168.90,440.41 169.40,440.26 169.90,440.10 170.40,439.94 170.90,439.78 171.40,439.61 171.90,439.44 172.40,439.27 172.90,439.10 173.40,438.92 173.90,438.74 174.40,438.56 174.90,438.38 175.40,438.20 175.90,438.02 176.40,437.84 176.90,437.65 177.40,437.47 177.90,437.28 178.40,437.09 178.90,436.91 179.40,436.72 179.90,436.54 180.40,436.35 180.90,436.17 181.40,435.98 181.90,435.80 182.40,435.61 182.90,435.43 183.40,435.25 183.90,435.07 184.40,434.88 184.90,434.70 185.40,434.52 185.90,434.34 186.40,434.15 186.90,433.97 187.40,433.79 187.90,433.61" fill="none" stroke="#8cb4a7" stroke-width="1.85" stroke-linejoin="round" stroke-linecap="round" />
<polyline points="28.40,508.70 28.90,508.55 29.40,508.40 29.90,508.25 30.40,508.09 30.90,507.94 31.40,507.79 31.90,507.64 32.40,507.49 32.90,507.34 33.40,507.19 33.90,507.03 34.40,506.88 34.90,506.73 35.40,506.58 35.90,506.43 36.40,506.28 36.90,506.13 37.40,505.98 37.90,505.83 38.40,505.68 38.90,505.53 39.40,505.38 39.90,505.23 40.40,505.08 40.90,504.93 41.40,504.78 41.90,504.63 42.40,504.48 42.90,504.33 43.40,504.18 43.90,504.03 44.40,503.88 44.90,503.73 45.40,503.58 45.90,503.43 46.40,503.28 46.90,503.12 47.40,502.97 47.90,502.81 48.40,502.66 48.90,502.50 49.40,502.34 49.90,502.18 50.40,502.02 50.90,501.86 51.40,501.70 51.90,501.53 52.40,501.37 52.90,501.20 53.40,501.03 53.90,500.86 54.40,500.69 54.90,500.52 55.40,500.35 55.90,500.18 56.40,500.01 56.90,499.84 57.40,499.67 57.90,499.49 58.40,499.32 58.90,499.15 59.40,498.98 59.90,498.82 60.40,498.65 60.90,498.48 61.40,498.32 61.90,498.15 62.40,497.99 62.90,497.83 63.40,497.67 63.90,497.52 64.40,497.36 64.90,497.21 65.40,497.06 65.90,496.91 66.40,496.76 66.90,496.61 67.40,496.46 67.90,496.31 68.40,496.16 68.90,496.01 69.40,495.86 69.90,495.71 70.40,495.56 70.90,495.41 71.40,495.26 71.90,495.10 72.40,494.95 72.90,494.79 73.40,494.63 73.90,494.47 74.40,494.30 74.90,494.14 75.40,493.97 75.90,493.79 76.40,493.62 76.90,493.44 77.40,493.26 77.90,493.08 78.40,492.90 78.90,492.71 79.40,492.53 79.90,492.35 80.40,492.17 80.90,491.99 81.40,491.81 81.90,491.63 82.40,491.46 82.90,491.28 83.40,491.11 83.90,490.95 84.40,490.79 84.90,490.63 85.40,490.48 85.90,490.33 86.40,490.19 86.90,490.04 87.40,489.90 87.90,489.76 88.40,489.63 88.90,489.49 89.40,489.35 89.90,489.20 90.40,489.06 90.90,488.91 91.40,488.76 91.90,488.60 92.40,488.44 92.90,488.27 93.40,488.10 93.90,487.94 94.40,487.77 94.90,487.61 95.40,487.47 95.90,487.33 96.40,487.20 96.90,487.09 97.40,486.98 97.90,486.89 98.40,486.80 98.90,486.72 99.40,486.64 99.90,486.56 100.40,486.49 100.90,486.43 101.40,486.36 101.90,486.31 102.40,486.26 102.90,486.21 103.40,486.17 103.90,486.13 104.40,486.10 104.90,486.07 105.40,486.04 105.90,486.02 106.40,485.99 106.90,485.97 107.40,485.95 107.90,485.93 108.40,485.90 108.90,485.87 109.40,485.84 109.90,485.81 110.40,485.78 110.90,485.74 111.40,485.70 111.90,485.66 112.40,485.62 112.90,485.57 113.40,485.53 113.90,485.48 114.40,485.43 114.90,485.38 115.40,485.33 115.90,485.28 116.40,485.22 116.90,485.17 117.40,485.11 117.90,485.05 118.40,484.99 118.90,484.93 119.40,484.87 119.90,484.81 120.40,484.75 120.90,484.69 121.40,484.63 121.90,484.56 122.40,484.50 122.90,484.43 123.40,484.37 123.90,484.30 124.40,484.23 124.90,484.16 125.40,484.09 125.90,484.02 126.40,483.95 126.90,483.88 127.40,483.80 127.90,483.73 128.40,483.65 128.90,483.57 129.40,483.49 129.90,483.41 130.40,483.33 130.90,483.24 131.40,483.15 131.90,483.07 132.40,482.98 132.90,482.89 133.40,482.79 133.90,482.70 134.40,482.60 134.90,482.50 135.40,482.40 135.90,482.30 136.40,482.19 136.90,482.09 137.40,481.98 137.90,481.87 138.40,481.76 138.90,481.64 139.40,481.53 139.90,481.41 140.40,481.30 140.90,481.18 141.40,481.06 141.90,480.94 142.40,480.81 142.90,480.69 143.40,480.57 143.90,480.44 144.40,480.31 144.90,480.18 145.40,480.06 145.90,479.93 146.40,479.80 146.90,479.66 147.40,479.53 147.90,479.40 148.40,479.26 148.90,479.13 149.40,479.00 149.90,478.86 150.40,478.72 150.90,478.59 151.40,478.45 151.90,478.31 152.40,478.18 152.90,478.04 153.40,477.90 153.90,477.76 154.40,477.62 154.90,477.48 155.40,477.35 155.90,477.21 156.40,477.07 156.90,476.93 157.40,476.79 157.90,476.66 158.40,476.52 158.90,476.38 159.40,476.24 159.90,476.11 160.40,475.97 160.90,475.83 161.40,475.70 161.90,475.56 162.40,475.43 162.90,475.30 163.40,475.16 163.90,475.03 164.40,474.90 164.90,474.77 165.40,474.64 165.90,474.51 166.40,474.38 166.90,474.26 167.40,474.13 167.90,474.01 168.40,473.88 168.90,473.76 169.40,473.64 169.90,473.52 170.40,473.41 170.90,473.29 171.40,473.17 171.90,473.06 172.40,472.95 172.90,472.84 173.40,472.72 173.90,472.61 174.40,472.50 174.90,472.40 175.40,472.29 175.90,472.18 176.40,472.07 176.90,471.96 177.40,471.86 177.90,471.75 178.40,471.64 178.90,471.54 179.40,471.43 179.90,471.32 180.40,471.21 180.90,471.11 181.40,471.00 181.90,470.89 182.40,470.78 182.90,470.67 183.40,470.56 183.90,470.45 184.40,470.34 184.90,470.23 185.40,470.12 185.90,470.01 186.40,469.90 186.90,469.79 187.40,469.68 187.90,469.57" fill="none" stroke="#6a9a8b" stroke-width="1.85" stroke-linejoin="round" stroke-linecap="round" />
<line x1="100.30" y1="369.30" x2="100.30" y2="526.00" stroke="#333" stroke-width="1.0" stroke-dasharray="4.7,2.9"/>
<polyline points="253.60,397.40 253.90,397.33 254.20,397.26 254.50,397.19 254.80,397.12 255.10,397.04 255.40,396.97 255.70,396.89 256.00,396.81 256.30,396.73 256.60,396.65 256.90,396.56 257.20,396.48 257.50,396.39 257.80,396.30 258.10,396.21 258.40,396.12 258.70,396.03 259.00,395.94 259.30,395.84 259.60,395.74 259.90,395.65 260.20,395.55 260.50,395.45 260.80,395.35 261.10,395.25 261.40,395.14 261.70,395.04 262.00,394.93 262.30,394.83 262.60,394.72 262.90,394.61 263.20,394.50 263.50,394.39 263.80,394.28 264.10,394.17 264.40,394.05 264.70,393.94 265.00,393.82 265.30,393.71 265.60,393.59 265.90,393.47 266.20,393.34 266.50,393.22 266.80,393.10 267.10,392.97 267.40,392.84 267.70,392.71 268.00,392.57 268.30,392.44 268.60,392.30 268.90,392.17 269.20,392.03 269.50,391.88 269.80,391.74 270.10,391.60 270.40,391.45 270.70,391.30 271.00,391.15 271.30,391.00 271.60,390.85 271.90,390.69 272.20,390.54 272.50,390.38 272.80,390.22 273.10,390.06 273.40,389.89 273.70,389.73 274.00,389.56 274.30,389.40 274.60,389.23 274.90,389.06 275.20,388.88 275.50,388.71 275.80,388.54 276.10,388.36 276.40,388.18 276.70,388.00 277.00,387.82 277.30,387.64 277.60,387.45 277.90,387.26 278.20,387.07 278.50,386.86 278.80,386.66 279.10,386.44 279.40,386.22 279.70,385.98 280.00,385.74 280.30,385.48 280.60,385.21 280.90,384.92 281.20,384.61 281.50,384.28 281.80,383.94 282.10,383.57 282.40,383.19 282.70,382.78 283.00,382.36 283.30,381.91 283.60,381.44 283.90,380.93 284.20,380.37 284.50,379.78 284.80,379.15 285.10,378.48 285.40,377.79 285.70,377.08 286.00,376.35 286.30,375.57 286.60,374.69 286.90,373.74 287.20,372.78 287.50,371.84 287.80,371.00 288.10,370.26 288.40,369.49 288.70,368.75 289.00,368.15 289.30,367.82 289.60,367.83 289.90,367.98 290.20,368.22 290.50,368.50 290.80,368.86 291.10,369.43 291.40,370.11 291.70,370.81 292.00,371.40 292.30,371.90 292.60,372.38 292.90,372.84 293.20,373.28 293.50,373.71 293.80,374.12 294.10,374.52 294.40,374.89 294.70,375.26 295.00,375.60 295.30,375.93 295.60,376.26 295.90,376.58 296.20,376.89 296.50,377.19 296.80,377.47 297.10,377.73 297.40,377.98 297.70,378.20 298.00,378.40 298.30,378.58 298.60,378.76 298.90,378.93 299.20,379.10 299.50,379.26 299.80,379.41 300.10,379.55 300.40,379.68 300.70,379.81 301.00,379.92 301.30,380.02 301.60,380.10 301.90,380.18 302.20,380.24 302.50,380.30 302.80,380.36 303.10,380.42 303.40,380.48 303.70,380.53 304.00,380.58 304.30,380.63 304.60,380.68 304.90,380.72 305.20,380.76 305.50,380.79 305.80,380.82 306.10,380.85 306.40,380.87 306.70,380.88 307.00,380.89 307.30,380.90 307.60,380.90 307.90,380.89 308.20,380.86 308.50,380.83 308.80,380.79 309.10,380.74 309.40,380.69 309.70,380.63 310.00,380.56 310.30,380.49 310.60,380.41 310.90,380.33 311.20,380.24 311.50,380.15 311.80,380.06 312.10,379.97 312.40,379.86 312.70,379.73 313.00,379.58 313.30,379.41 313.60,379.22 313.90,379.02 314.20,378.80 314.50,378.57 314.80,378.32 315.10,378.06 315.40,377.79 315.70,377.50 316.00,377.18 316.30,376.80 316.60,376.38 316.90,375.91 317.20,375.41 317.50,374.88 317.80,374.33 318.10,373.77 318.40,373.19 318.70,372.60 319.00,371.95 319.30,371.25 319.60,370.52 319.90,369.75 320.20,368.98 320.50,368.20 320.80,367.43 321.10,366.68 321.40,365.96 321.70,365.28 322.00,364.61 322.30,363.93 322.60,363.27 322.90,362.61 323.20,361.97 323.50,361.35 323.80,360.76 324.10,360.20 324.40,359.67 324.70,359.17 325.00,358.67 325.30,358.18 325.60,357.71 325.90,357.27 326.20,356.88 326.50,356.56 326.80,356.30 327.10,356.08 327.40,355.88 327.70,355.70 328.00,355.57 328.30,355.50 328.60,355.52 328.90,355.61 329.20,355.77 329.50,355.96 329.80,356.19 330.10,356.42 330.40,356.67 330.70,356.97 331.00,357.33 331.30,357.72 331.60,358.15 331.90,358.60 332.20,359.05 332.50,359.50 332.80,359.96 333.10,360.45 333.40,360.96 333.70,361.49 334.00,362.03 334.30,362.57 334.60,363.10 334.90,363.64 335.20,364.20 335.50,364.77 335.80,365.36 336.10,365.94 336.40,366.52 336.70,367.09 337.00,367.64 337.30,368.18 337.60,368.68 337.90,369.15 338.20,369.59 338.50,370.03 338.80,370.46 339.10,370.88 339.40,371.29 339.70,371.69 340.00,372.07 340.30,372.43 340.60,372.77 340.90,373.09 341.20,373.38 341.50,373.64 341.80,373.87 342.10,374.09 342.40,374.30 342.70,374.51 343.00,374.70 343.30,374.88 343.60,375.06 343.90,375.22 344.20,375.38 344.50,375.53 344.80,375.66 345.10,375.79 345.40,375.90 345.70,376.01 346.00,376.10 346.30,376.18 346.60,376.27 346.90,376.34 347.20,376.41 347.50,376.48 347.80,376.55 348.10,376.61 348.40,376.67 348.70,376.73 349.00,376.79 349.30,376.84 349.60,376.89 349.90,376.94 350.20,376.99 350.50,377.04 350.80,377.08 351.10,377.13 351.40,377.17 351.70,377.21 352.00,377.26 352.30,377.30 352.60,377.34 352.90,377.39 353.20,377.43 353.50,377.47 353.80,377.51 354.10,377.55 354.40,377.59 354.70,377.63 355.00,377.67 355.30,377.70 355.60,377.74 355.90,377.78 356.20,377.81 356.50,377.85 356.80,377.88 357.10,377.92 357.40,377.95 357.70,377.98 358.00,378.01 358.30,378.04 358.60,378.08 358.90,378.11 359.20,378.13 359.50,378.16 359.80,378.19 360.10,378.22 360.40,378.25 360.70,378.27 361.00,378.30 361.30,378.33 361.60,378.35 361.90,378.38 362.20,378.40 362.50,378.42 362.80,378.45 363.10,378.47 363.40,378.49 363.70,378.52 364.00,378.54 364.30,378.56 364.60,378.58 364.90,378.60 365.20,378.62 365.50,378.64 365.80,378.66 366.10,378.68 366.40,378.70 366.70,378.72 367.00,378.74 367.30,378.76 367.60,378.78 367.90,378.80 368.20,378.82 368.50,378.84 368.80,378.85 369.10,378.87 369.40,378.89 369.70,378.91 370.00,378.93 370.30,378.94 370.60,378.96 370.90,378.98 371.20,378.99 371.50,379.01 371.80,379.03 372.10,379.04 372.40,379.06 372.70,379.08 373.00,379.09 373.30,379.11 373.60,379.13 373.90,379.14 374.20,379.16 374.50,379.17 374.80,379.19 375.10,379.20 375.40,379.22 375.70,379.23 376.00,379.25 376.30,379.26 376.60,379.28 376.90,379.29 377.20,379.31 377.50,379.32 377.80,379.34 378.10,379.35 378.40,379.36 378.70,379.38 379.00,379.39 379.30,379.41 379.60,379.42 379.90,379.43 380.20,379.45 380.50,379.46 380.80,379.48 381.10,379.49 381.40,379.50 381.70,379.52 382.00,379.53 382.30,379.54 382.60,379.56 382.90,379.57 383.20,379.58 383.50,379.60 383.80,379.61 384.10,379.62 384.40,379.63 384.70,379.65 385.00,379.66 385.30,379.67 385.60,379.69 385.90,379.70 386.20,379.71 386.50,379.73 386.80,379.74 387.10,379.75 387.40,379.76 387.70,379.78 388.00,379.79 388.30,379.80 388.60,379.82 388.90,379.83 389.20,379.84 389.50,379.86 389.80,379.87 390.10,379.88 390.40,379.90 390.70,379.91 391.00,379.92 391.30,379.94 391.60,379.95 391.90,379.96 392.20,379.98 392.50,379.99 392.80,380.00 393.10,380.02 393.40,380.03 393.70,380.04 394.00,380.06 394.30,380.07 394.60,380.09 394.90,380.10 395.20,380.11 395.50,380.13 395.80,380.14 396.10,380.16 396.40,380.17 396.70,380.19 397.00,380.20 397.30,380.21 397.60,380.23 397.90,380.24 398.20,380.26 398.50,380.27 398.80,380.28 399.10,380.30 399.40,380.31 399.70,380.33 400.00,380.34 400.30,380.36 400.60,380.37 400.90,380.38 401.20,380.40 401.50,380.41 401.80,380.43 402.10,380.44 402.40,380.46 402.70,380.47 403.00,380.49 403.30,380.50 403.60,380.51 403.90,380.53 404.20,380.54 404.50,380.56 404.80,380.57 405.10,380.59 405.40,380.60 405.70,380.61 406.00,380.63 406.30,380.64 406.60,380.66 406.90,380.67 407.20,380.69 407.50,380.70 407.80,380.72 408.10,380.73 408.40,380.74 408.70,380.76 409.00,380.77 409.30,380.79 409.60,380.80 409.90,380.82 410.20,380.83 410.50,380.85 410.80,380.86 411.10,380.87 411.40,380.89 411.70,380.90 412.00,380.92 412.30,380.93 412.60,380.95 412.90,380.96 413.20,380.98 413.50,380.99 413.70,381.00" fill="none" stroke="#f5e2ce" stroke-width="1.5" stroke-linejoin="round" stroke-linecap="round" />
<polyline points="253.60,436.70 253.90,436.65 254.20,436.60 254.50,436.54 254.80,436.49 255.10,436.44 255.40,436.38 255.70,436.32 256.00,436.27 256.30,436.21 256.60,436.15 256.90,436.09 257.20,436.03 257.50,435.97 257.80,435.90 258.10,435.84 258.40,435.78 258.70,435.71 259.00,435.65 259.30,435.58 259.60,435.51 259.90,435.44 260.20,435.38 260.50,435.31 260.80,435.24 261.10,435.17 261.40,435.09 261.70,435.02 262.00,434.95 262.30,434.88 262.60,434.80 262.90,434.73 263.20,434.65 263.50,434.58 263.80,434.50 264.10,434.42 264.40,434.35 264.70,434.27 265.00,434.19 265.30,434.11 265.60,434.03 265.90,433.95 266.20,433.87 266.50,433.79 266.80,433.71 267.10,433.63 267.40,433.55 267.70,433.46 268.00,433.38 268.30,433.30 268.60,433.22 268.90,433.14 269.20,433.06 269.50,432.98 269.80,432.89 270.10,432.81 270.40,432.73 270.70,432.64 271.00,432.56 271.30,432.47 271.60,432.39 271.90,432.30 272.20,432.21 272.50,432.12 272.80,432.03 273.10,431.93 273.40,431.84 273.70,431.74 274.00,431.64 274.30,431.54 274.60,431.44 274.90,431.33 275.20,431.22 275.50,431.11 275.80,431.00 276.10,430.88 276.40,430.76 276.70,430.64 277.00,430.52 277.30,430.39 277.60,430.26 277.90,430.12 278.20,429.99 278.50,429.84 278.80,429.70 279.10,429.55 279.40,429.38 279.70,429.20 280.00,428.99 280.30,428.77 280.60,428.54 280.90,428.30 281.20,428.05 281.50,427.80 281.80,427.54 282.10,427.26 282.40,426.97 282.70,426.67 283.00,426.34 283.30,426.00 283.60,425.63 283.90,425.22 284.20,424.76 284.50,424.25 284.80,423.70 285.10,423.14 285.40,422.58 285.70,422.03 286.00,421.50 286.30,420.98 286.60,420.45 286.90,419.92 287.20,419.41 287.50,418.92 287.80,418.47 288.10,418.07 288.40,417.65 288.70,417.23 289.00,416.84 289.30,416.53 289.60,416.34 289.90,416.30 290.20,416.35 290.50,416.46 290.80,416.59 291.10,416.75 291.40,416.94 291.70,417.26 292.00,417.67 292.30,418.13 292.60,418.60 292.90,419.04 293.20,419.40 293.50,419.71 293.80,420.00 294.10,420.28 294.40,420.55 294.70,420.81 295.00,421.05 295.30,421.29 295.60,421.51 295.90,421.73 296.20,421.94 296.50,422.15 296.80,422.36 297.10,422.57 297.40,422.76 297.70,422.95 298.00,423.13 298.30,423.28 298.60,423.42 298.90,423.54 299.20,423.63 299.50,423.71 299.80,423.79 300.10,423.87 300.40,423.95 300.70,424.03 301.00,424.10 301.30,424.17 301.60,424.24 301.90,424.30 302.20,424.36 302.50,424.42 302.80,424.48 303.10,424.53 303.40,424.58 303.70,424.62 304.00,424.66 304.30,424.69 304.60,424.72 304.90,424.75 305.20,424.77 305.50,424.78 305.80,424.80 306.10,424.80 306.40,424.80 306.70,424.79 307.00,424.78 307.30,424.76 307.60,424.74 307.90,424.71 308.20,424.68 308.50,424.64 308.80,424.60 309.10,424.55 309.40,424.50 309.70,424.45 310.00,424.40 310.30,424.34 310.60,424.28 310.90,424.22 311.20,424.15 311.50,424.07 311.80,423.96 312.10,423.84 312.40,423.70 312.70,423.55 313.00,423.38 313.30,423.20 313.60,423.01 313.90,422.82 314.20,422.61 314.50,422.40 314.80,422.17 315.10,421.91 315.40,421.63 315.70,421.32 316.00,420.98 316.30,420.62 316.60,420.25 316.90,419.85 317.20,419.43 317.50,419.00 317.80,418.53 318.10,418.01 318.40,417.43 318.70,416.82 319.00,416.18 319.30,415.52 319.60,414.83 319.90,414.15 320.20,413.46 320.50,412.77 320.80,412.07 321.10,411.34 321.40,410.60 321.70,409.84 322.00,409.07 322.30,408.30 322.60,407.53 322.90,406.76 323.20,405.99 323.50,405.20 323.80,404.41 324.10,403.62 324.40,402.82 324.70,402.03 325.00,401.26 325.30,400.50 325.60,399.75 325.90,399.01 326.20,398.26 326.50,397.53 326.80,396.83 327.10,396.19 327.40,395.61 327.70,394.98 328.00,394.37 328.30,393.88 328.60,393.62 328.90,393.62 329.20,393.73 329.50,393.92 329.80,394.15 330.10,394.41 330.40,394.72 330.70,395.16 331.00,395.71 331.30,396.36 331.60,397.06 331.90,397.78 332.20,398.50 332.50,399.26 332.80,400.12 333.10,401.03 333.40,401.98 333.70,402.93 334.00,403.85 334.30,404.72 334.60,405.50 334.90,406.22 335.20,406.91 335.50,407.58 335.80,408.22 336.10,408.85 336.40,409.45 336.70,410.03 337.00,410.60 337.30,411.14 337.60,411.68 337.90,412.22 338.20,412.77 338.50,413.31 338.80,413.84 339.10,414.35 339.40,414.82 339.70,415.25 340.00,415.62 340.30,415.93 340.60,416.17 340.90,416.39 341.20,416.58 341.50,416.77 341.80,416.94 342.10,417.11 342.40,417.26 342.70,417.40 343.00,417.53 343.30,417.66 343.60,417.77 343.90,417.88 344.20,417.97 344.50,418.06 344.80,418.15 345.10,418.23 345.40,418.30 345.70,418.37 346.00,418.44 346.30,418.50 346.60,418.57 346.90,418.63 347.20,418.69 347.50,418.75 347.80,418.80 348.10,418.85 348.40,418.90 348.70,418.95 349.00,419.00 349.30,419.04 349.60,419.09 349.90,419.13 350.20,419.17 350.50,419.20 350.80,419.24 351.10,419.28 351.40,419.31 351.70,419.34 352.00,419.37 352.30,419.40 352.60,419.43 352.90,419.46 353.20,419.48 353.50,419.51 353.80,419.54 354.10,419.56 354.40,419.59 354.70,419.62 355.00,419.64 355.30,419.67 355.60,419.69 355.90,419.72 356.20,419.74 356.50,419.77 356.80,419.79 357.10,419.81 357.40,419.84 357.70,419.86 358.00,419.88 358.30,419.90 358.60,419.93 358.90,419.95 359.20,419.97 359.50,419.99 359.80,420.01 360.10,420.03 360.40,420.05 360.70,420.07 361.00,420.09 361.30,420.11 361.60,420.13 361.90,420.15 362.20,420.17 362.50,420.19 362.80,420.21 363.10,420.22 363.40,420.24 363.70,420.26 364.00,420.28 364.30,420.29 364.60,420.31 364.90,420.33 365.20,420.34 365.50,420.36 365.80,420.38 366.10,420.39 366.40,420.41 366.70,420.42 367.00,420.44 367.30,420.45 367.60,420.47 367.90,420.48 368.20,420.49 368.50,420.51 368.80,420.52 369.10,420.54 369.40,420.55 369.70,420.56 370.00,420.58 370.30,420.59 370.60,420.60 370.90,420.61 371.20,420.63 371.50,420.64 371.80,420.65 372.10,420.66 372.40,420.67 372.70,420.68 373.00,420.70 373.30,420.71 373.60,420.72 373.90,420.73 374.20,420.74 374.50,420.75 374.80,420.76 375.10,420.77 375.40,420.78 375.70,420.79 376.00,420.80 376.30,420.81 376.60,420.82 376.90,420.83 377.20,420.84 377.50,420.85 377.80,420.86 378.10,420.87 378.40,420.88 378.70,420.89 379.00,420.90 379.30,420.91 379.60,420.92 379.90,420.93 380.20,420.93 380.50,420.94 380.80,420.95 381.10,420.96 381.40,420.97 381.70,420.98 382.00,420.99 382.30,421.00 382.60,421.01 382.90,421.02 383.20,421.03 383.50,421.04 383.80,421.05 384.10,421.06 384.40,421.07 384.70,421.07 385.00,421.08 385.30,421.09 385.60,421.10 385.90,421.11 386.20,421.12 386.50,421.13 386.80,421.14 387.10,421.15 387.40,421.15 387.70,421.16 388.00,421.17 388.30,421.18 388.60,421.19 388.90,421.20 389.20,421.21 389.50,421.21 389.80,421.22 390.10,421.23 390.40,421.24 390.70,421.25 391.00,421.26 391.30,421.26 391.60,421.27 391.90,421.28 392.20,421.29 392.50,421.29 392.80,421.30 393.10,421.31 393.40,421.32 393.70,421.32 394.00,421.33 394.30,421.34 394.60,421.35 394.90,421.35 395.20,421.36 395.50,421.37 395.80,421.37 396.10,421.38 396.40,421.39 396.70,421.40 397.00,421.40 397.30,421.41 397.60,421.41 397.90,421.42 398.20,421.43 398.50,421.43 398.80,421.44 399.10,421.45 399.40,421.45 399.70,421.46 400.00,421.46 400.30,421.47 400.60,421.47 400.90,421.48 401.20,421.48 401.50,421.49 401.80,421.49 402.10,421.50 402.40,421.50 402.70,421.51 403.00,421.51 403.30,421.52 403.60,421.52 403.90,421.53 404.20,421.53 404.50,421.54 404.80,421.54 405.10,421.54 405.40,421.55 405.70,421.55 406.00,421.55 406.30,421.56 406.60,421.56 406.90,421.56 407.20,421.57 407.50,421.57 407.80,421.57 408.10,421.58 408.40,421.58 408.70,421.58 409.00,421.58 409.30,421.58 409.60,421.59 409.90,421.59 410.20,421.59 410.50,421.59 410.80,421.59 411.10,421.59 411.40,421.60 411.70,421.60 412.00,421.60 412.30,421.60 412.60,421.60 412.90,421.60 413.20,421.60 413.50,421.60 413.70,421.60" fill="none" stroke="#edc6a3" stroke-width="1.6" stroke-linejoin="round" stroke-linecap="round" />
<polyline points="253.60,480.40 253.90,480.29 254.20,480.18 254.50,480.07 254.80,479.96 255.10,479.85 255.40,479.74 255.70,479.64 256.00,479.53 256.30,479.42 256.60,479.31 256.90,479.21 257.20,479.10 257.50,478.99 257.80,478.89 258.10,478.78 258.40,478.67 258.70,478.57 259.00,478.46 259.30,478.36 259.60,478.25 259.90,478.15 260.20,478.04 260.50,477.94 260.80,477.84 261.10,477.73 261.40,477.63 261.70,477.53 262.00,477.43 262.30,477.32 262.60,477.22 262.90,477.12 263.20,477.02 263.50,476.92 263.80,476.82 264.10,476.72 264.40,476.62 264.70,476.52 265.00,476.42 265.30,476.32 265.60,476.22 265.90,476.12 266.20,476.03 266.50,475.93 266.80,475.83 267.10,475.73 267.40,475.64 267.70,475.54 268.00,475.45 268.30,475.36 268.60,475.27 268.90,475.19 269.20,475.10 269.50,475.02 269.80,474.94 270.10,474.86 270.40,474.78 270.70,474.70 271.00,474.63 271.30,474.55 271.60,474.47 271.90,474.40 272.20,474.32 272.50,474.24 272.80,474.16 273.10,474.08 273.40,474.00 273.70,473.92 274.00,473.84 274.30,473.76 274.60,473.67 274.90,473.58 275.20,473.49 275.50,473.40 275.80,473.31 276.10,473.21 276.40,473.11 276.70,473.01 277.00,472.90 277.30,472.79 277.60,472.68 277.90,472.56 278.20,472.44 278.50,472.32 278.80,472.19 279.10,472.05 279.40,471.90 279.70,471.74 280.00,471.55 280.30,471.36 280.60,471.15 280.90,470.94 281.20,470.72 281.50,470.50 281.80,470.27 282.10,470.04 282.40,469.79 282.70,469.53 283.00,469.26 283.30,468.99 283.60,468.70 283.90,468.40 284.20,468.08 284.50,467.75 284.80,467.40 285.10,467.04 285.40,466.67 285.70,466.30 286.00,465.92 286.30,465.54 286.60,465.17 286.90,464.79 287.20,464.42 287.50,464.05 287.80,463.65 288.10,463.23 288.40,462.82 288.70,462.42 289.00,462.06 289.30,461.76 289.60,461.53 289.90,461.30 290.20,461.11 290.50,461.01 290.80,461.03 291.10,461.16 291.40,461.36 291.70,461.58 292.00,461.80 292.30,462.01 292.60,462.24 292.90,462.47 293.20,462.70 293.50,462.93 293.80,463.17 294.10,463.41 294.40,463.65 294.70,463.89 295.00,464.13 295.30,464.35 295.60,464.55 295.90,464.74 296.20,464.91 296.50,465.08 296.80,465.24 297.10,465.40 297.40,465.55 297.70,465.69 298.00,465.82 298.30,465.94 298.60,466.05 298.90,466.14 299.20,466.23 299.50,466.30 299.80,466.38 300.10,466.46 300.40,466.53 300.70,466.61 301.00,466.68 301.30,466.75 301.60,466.82 301.90,466.88 302.20,466.94 302.50,467.00 302.80,467.06 303.10,467.11 303.40,467.16 303.70,467.21 304.00,467.25 304.30,467.29 304.60,467.32 304.90,467.34 305.20,467.37 305.50,467.38 305.80,467.39 306.10,467.40 306.40,467.40 306.70,467.39 307.00,467.37 307.30,467.34 307.60,467.30 307.90,467.26 308.20,467.21 308.50,467.16 308.80,467.09 309.10,467.03 309.40,466.95 309.70,466.88 310.00,466.79 310.30,466.71 310.60,466.62 310.90,466.53 311.20,466.43 311.50,466.30 311.80,466.15 312.10,465.97 312.40,465.76 312.70,465.54 313.00,465.30 313.30,465.04 313.60,464.77 313.90,464.49 314.20,464.20 314.50,463.90 314.80,463.58 315.10,463.23 315.40,462.84 315.70,462.43 316.00,461.98 316.30,461.52 316.60,461.04 316.90,460.54 317.20,460.02 317.50,459.50 317.80,458.95 318.10,458.37 318.40,457.76 318.70,457.12 319.00,456.46 319.30,455.78 319.60,455.09 319.90,454.38 320.20,453.67 320.50,452.96 320.80,452.22 321.10,451.46 321.40,450.67 321.70,449.88 322.00,449.08 322.30,448.29 322.60,447.51 322.90,446.75 323.20,445.99 323.50,445.23 323.80,444.47 324.10,443.72 324.40,442.99 324.70,442.28 325.00,441.61 325.30,440.97 325.60,440.31 325.90,439.65 326.20,439.04 326.50,438.49 326.80,438.03 327.10,437.70 327.40,437.39 327.70,437.12 328.00,436.92 328.30,436.81 328.60,436.81 328.90,436.88 329.20,436.99 329.50,437.14 329.80,437.30 330.10,437.54 330.40,437.90 330.70,438.36 331.00,438.90 331.30,439.49 331.60,440.12 331.90,440.77 332.20,441.40 332.50,442.06 332.80,442.79 333.10,443.57 333.40,444.38 333.70,445.20 334.00,446.00 334.30,446.81 334.60,447.66 334.90,448.51 335.20,449.35 335.50,450.15 335.80,450.90 336.10,451.61 336.40,452.30 336.70,452.98 337.00,453.63 337.30,454.24 337.60,454.81 337.90,455.34 338.20,455.82 338.50,456.28 338.80,456.74 339.10,457.16 339.40,457.56 339.70,457.93 340.00,458.26 340.30,458.54 340.60,458.77 340.90,458.99 341.20,459.19 341.50,459.38 341.80,459.57 342.10,459.74 342.40,459.90 342.70,460.06 343.00,460.20 343.30,460.33 343.60,460.46 343.90,460.57 344.20,460.67 344.50,460.77 344.80,460.85 345.10,460.92 345.40,460.99 345.70,461.06 346.00,461.13 346.30,461.19 346.60,461.25 346.90,461.31 347.20,461.37 347.50,461.43 347.80,461.48 348.10,461.53 348.40,461.58 348.70,461.63 349.00,461.67 349.30,461.71 349.60,461.75 349.90,461.79 350.20,461.82 350.50,461.86 350.80,461.89 351.10,461.91 351.40,461.94 351.70,461.96 352.00,461.98 352.30,462.00 352.60,462.02 352.90,462.03 353.20,462.05 353.50,462.06 353.80,462.08 354.10,462.10 354.40,462.11 354.70,462.12 355.00,462.14 355.30,462.15 355.60,462.17 355.90,462.18 356.20,462.19 356.50,462.21 356.80,462.22 357.10,462.23 357.40,462.24 357.70,462.25 358.00,462.27 358.30,462.28 358.60,462.29 358.90,462.30 359.20,462.31 359.50,462.32 359.80,462.33 360.10,462.34 360.40,462.35 360.70,462.36 361.00,462.37 361.30,462.38 361.60,462.39 361.90,462.40 362.20,462.41 362.50,462.42 362.80,462.42 363.10,462.43 363.40,462.44 363.70,462.45 364.00,462.46 364.30,462.46 364.60,462.47 364.90,462.48 365.20,462.49 365.50,462.49 365.80,462.50 366.10,462.51 366.40,462.51 366.70,462.52 367.00,462.53 367.30,462.53 367.60,462.54 367.90,462.55 368.20,462.55 368.50,462.56 368.80,462.56 369.10,462.57 369.40,462.58 369.70,462.58 370.00,462.59 370.30,462.59 370.60,462.60 370.90,462.61 371.20,462.61 371.50,462.62 371.80,462.62 372.10,462.63 372.40,462.63 372.70,462.64 373.00,462.64 373.30,462.65 373.60,462.66 373.90,462.66 374.20,462.67 374.50,462.67 374.80,462.68 375.10,462.68 375.40,462.69 375.70,462.69 376.00,462.70 376.30,462.71 376.60,462.71 376.90,462.72 377.20,462.72 377.50,462.73 377.80,462.73 378.10,462.74 378.40,462.75 378.70,462.75 379.00,462.76 379.30,462.76 379.60,462.77 379.90,462.77 380.20,462.78 380.50,462.78 380.80,462.79 381.10,462.79 381.40,462.80 381.70,462.81 382.00,462.81 382.30,462.82 382.60,462.82 382.90,462.83 383.20,462.83 383.50,462.84 383.80,462.84 384.10,462.85 384.40,462.85 384.70,462.86 385.00,462.86 385.30,462.87 385.60,462.88 385.90,462.88 386.20,462.89 386.50,462.89 386.80,462.90 387.10,462.90 387.40,462.91 387.70,462.91 388.00,462.92 388.30,462.92 388.60,462.93 388.90,462.93 389.20,462.94 389.50,462.94 389.80,462.95 390.10,462.95 390.40,462.96 390.70,462.96 391.00,462.97 391.30,462.97 391.60,462.97 391.90,462.98 392.20,462.98 392.50,462.99 392.80,462.99 393.10,463.00 393.40,463.00 393.70,463.01 394.00,463.01 394.30,463.02 394.60,463.02 394.90,463.02 395.20,463.03 395.50,463.03 395.80,463.04 396.10,463.04 396.40,463.05 396.70,463.05 397.00,463.05 397.30,463.06 397.60,463.06 397.90,463.07 398.20,463.07 398.50,463.07 398.80,463.08 399.10,463.08 399.40,463.08 399.70,463.09 400.00,463.09 400.30,463.10 400.60,463.10 400.90,463.10 401.20,463.11 401.50,463.11 401.80,463.11 402.10,463.12 402.40,463.12 402.70,463.12 403.00,463.13 403.30,463.13 403.60,463.13 403.90,463.13 404.20,463.14 404.50,463.14 404.80,463.14 405.10,463.15 405.40,463.15 405.70,463.15 406.00,463.15 406.30,463.16 406.60,463.16 406.90,463.16 407.20,463.16 407.50,463.17 407.80,463.17 408.10,463.17 408.40,463.17 408.70,463.17 409.00,463.18 409.30,463.18 409.60,463.18 409.90,463.18 410.20,463.18 410.50,463.19 410.80,463.19 411.10,463.19 411.40,463.19 411.70,463.19 412.00,463.19 412.30,463.19 412.60,463.20 412.90,463.20 413.20,463.20 413.50,463.20 413.70,463.20" fill="none" stroke="#e6a97a" stroke-width="1.8" stroke-linejoin="round" stroke-linecap="round" />
<polyline points="253.60,520.40 253.90,520.31 254.20,520.23 254.50,520.14 254.80,520.05 255.10,519.96 255.40,519.88 255.70,519.79 256.00,519.70 256.30,519.61 256.60,519.52 256.90,519.43 257.20,519.34 257.50,519.25 257.80,519.16 258.10,519.07 258.40,518.98 258.70,518.89 259.00,518.80 259.30,518.71 259.60,518.61 259.90,518.52 260.20,518.43 260.50,518.34 260.80,518.24 261.10,518.15 261.40,518.06 261.70,517.96 262.00,517.87 262.30,517.77 262.60,517.68 262.90,517.58 263.20,517.49 263.50,517.39 263.80,517.30 264.10,517.20 264.40,517.11 264.70,517.01 265.00,516.91 265.30,516.82 265.60,516.72 265.90,516.62 266.20,516.53 266.50,516.43 266.80,516.33 267.10,516.23 267.40,516.13 267.70,516.04 268.00,515.94 268.30,515.84 268.60,515.75 268.90,515.65 269.20,515.55 269.50,515.46 269.80,515.36 270.10,515.26 270.40,515.17 270.70,515.07 271.00,514.97 271.30,514.87 271.60,514.78 271.90,514.68 272.20,514.58 272.50,514.48 272.80,514.38 273.10,514.28 273.40,514.18 273.70,514.08 274.00,513.98 274.30,513.87 274.60,513.77 274.90,513.66 275.20,513.56 275.50,513.45 275.80,513.34 276.10,513.23 276.40,513.12 276.70,513.01 277.00,512.90 277.30,512.78 277.60,512.66 277.90,512.55 278.20,512.43 278.50,512.31 278.80,512.18 279.10,512.06 279.40,511.93 279.70,511.81 280.00,511.68 280.30,511.55 280.60,511.42 280.90,511.28 281.20,511.15 281.50,511.01 281.80,510.86 282.10,510.71 282.40,510.55 282.70,510.39 283.00,510.22 283.30,510.05 283.60,509.86 283.90,509.67 284.20,509.45 284.50,509.22 284.80,508.97 285.10,508.71 285.40,508.44 285.70,508.17 286.00,507.88 286.30,507.60 286.60,507.33 286.90,507.05 287.20,506.79 287.50,506.52 287.80,506.23 288.10,505.94 288.40,505.65 288.70,505.39 289.00,505.17 289.30,505.00 289.60,504.87 289.90,504.75 290.20,504.65 290.50,504.60 290.80,504.62 291.10,504.72 291.40,504.87 291.70,505.04 292.00,505.20 292.30,505.36 292.60,505.55 292.90,505.76 293.20,505.97 293.50,506.17 293.80,506.37 294.10,506.55 294.40,506.70 294.70,506.83 295.00,506.96 295.30,507.09 295.60,507.22 295.90,507.34 296.20,507.46 296.50,507.57 296.80,507.69 297.10,507.79 297.40,507.90 297.70,507.99 298.00,508.09 298.30,508.18 298.60,508.26 298.90,508.33 299.20,508.40 299.50,508.47 299.80,508.52 300.10,508.57 300.40,508.61 300.70,508.65 301.00,508.69 301.30,508.73 301.60,508.77 301.90,508.80 302.20,508.84 302.50,508.87 302.80,508.90 303.10,508.93 303.40,508.96 303.70,508.99 304.00,509.01 304.30,509.03 304.60,509.05 304.90,509.07 305.20,509.08 305.50,509.09 305.80,509.10 306.10,509.10 306.40,509.10 306.70,509.09 307.00,509.07 307.30,509.04 307.60,509.00 307.90,508.95 308.20,508.90 308.50,508.85 308.80,508.79 309.10,508.72 309.40,508.65 309.70,508.58 310.00,508.50 310.30,508.41 310.60,508.28 310.90,508.14 311.20,507.97 311.50,507.79 311.80,507.60 312.10,507.40 312.40,507.20 312.70,506.99 313.00,506.76 313.30,506.52 313.60,506.26 313.90,505.98 314.20,505.69 314.50,505.37 314.80,505.04 315.10,504.67 315.40,504.25 315.70,503.77 316.00,503.24 316.30,502.68 316.60,502.09 316.90,501.50 317.20,500.89 317.50,500.26 317.80,499.60 318.10,498.91 318.40,498.21 318.70,497.49 319.00,496.75 319.30,496.00 319.60,495.25 319.90,494.46 320.20,493.63 320.50,492.79 320.80,491.94 321.10,491.09 321.40,490.25 321.70,489.43 322.00,488.59 322.30,487.75 322.60,486.91 322.90,486.09 323.20,485.32 323.50,484.60 323.80,483.93 324.10,483.29 324.40,482.69 324.70,482.11 325.00,481.57 325.30,481.06 325.60,480.53 325.90,480.02 326.20,479.54 326.50,479.12 326.80,478.78 327.10,478.52 327.40,478.30 327.70,478.10 328.00,477.95 328.30,477.90 328.60,477.94 328.90,478.04 329.20,478.20 329.50,478.39 329.80,478.60 330.10,478.91 330.40,479.38 330.70,479.99 331.00,480.68 331.30,481.45 331.60,482.24 331.90,483.04 332.20,483.80 332.50,484.57 332.80,485.40 333.10,486.27 333.40,487.14 333.70,487.99 334.00,488.80 334.30,489.58 334.60,490.34 334.90,491.09 335.20,491.82 335.50,492.52 335.80,493.20 336.10,493.87 336.40,494.54 336.70,495.19 337.00,495.83 337.30,496.42 337.60,496.97 337.90,497.45 338.20,497.88 338.50,498.29 338.80,498.68 339.10,499.04 339.40,499.38 339.70,499.69 340.00,499.95 340.30,500.18 340.60,500.36 340.90,500.52 341.20,500.68 341.50,500.83 341.80,500.97 342.10,501.11 342.40,501.25 342.70,501.38 343.00,501.50 343.30,501.61 343.60,501.73 343.90,501.83 344.20,501.93 344.50,502.03 344.80,502.12 345.10,502.20 345.40,502.28 345.70,502.35 346.00,502.42 346.30,502.48 346.60,502.54 346.90,502.59 347.20,502.64 347.50,502.69 347.80,502.73 348.10,502.76 348.40,502.80 348.70,502.84 349.00,502.88 349.30,502.91 349.60,502.95 349.90,502.99 350.20,503.02 350.50,503.05 350.80,503.09 351.10,503.12 351.40,503.15 351.70,503.18 352.00,503.21 352.30,503.24 352.60,503.27 352.90,503.29 353.20,503.32 353.50,503.34 353.80,503.37 354.10,503.39 354.40,503.41 354.70,503.43 355.00,503.45 355.30,503.47 355.60,503.49 355.90,503.51 356.20,503.52 356.50,503.53 356.80,503.55 357.10,503.56 357.40,503.57 357.70,503.58 358.00,503.58 358.30,503.59 358.60,503.59 358.90,503.60 359.20,503.60 359.50,503.60 359.80,503.60 360.10,503.60 360.40,503.60 360.70,503.60 361.00,503.59 361.30,503.59 361.60,503.59 361.90,503.58 362.20,503.58 362.50,503.57 362.80,503.57 363.10,503.56 363.40,503.56 363.70,503.55 364.00,503.55 364.30,503.54 364.60,503.53 364.90,503.52 365.20,503.52 365.50,503.51 365.80,503.50 366.10,503.49 366.40,503.48 366.70,503.47 367.00,503.46 367.30,503.45 367.60,503.44 367.90,503.43 368.20,503.42 368.50,503.41 368.80,503.39 369.10,503.38 369.40,503.37 369.70,503.36 370.00,503.35 370.30,503.33 370.60,503.32 370.90,503.31 371.20,503.29 371.50,503.28 371.80,503.27 372.10,503.25 372.40,503.24 372.70,503.22 373.00,503.21 373.30,503.19 373.60,503.18 373.90,503.17 374.20,503.15 374.50,503.14 374.80,503.12 375.10,503.11 375.40,503.09 375.70,503.07 376.00,503.06 376.30,503.04 376.60,503.03 376.90,503.01 377.20,503.00 377.50,502.98 377.80,502.97 378.10,502.95 378.40,502.94 378.70,502.92 379.00,502.90 379.30,502.89 379.60,502.87 379.90,502.86 380.20,502.84 380.50,502.83 380.80,502.81 381.10,502.80 381.40,502.78 381.70,502.77 382.00,502.75 382.30,502.74 382.60,502.72 382.90,502.71 383.20,502.70 383.50,502.68 383.80,502.67 384.10,502.65 384.40,502.64 384.70,502.62 385.00,502.61 385.30,502.59 385.60,502.58 385.90,502.56 386.20,502.55 386.50,502.53 386.80,502.52 387.10,502.50 387.40,502.48 387.70,502.47 388.00,502.45 388.30,502.44 388.60,502.42 388.90,502.40 389.20,502.39 389.50,502.37 389.80,502.35 390.10,502.34 390.40,502.32 390.70,502.30 391.00,502.28 391.30,502.27 391.60,502.25 391.90,502.23 392.20,502.21 392.50,502.20 392.80,502.18 393.10,502.16 393.40,502.14 393.70,502.13 394.00,502.11 394.30,502.09 394.60,502.07 394.90,502.05 395.20,502.03 395.50,502.01 395.80,502.00 396.10,501.98 396.40,501.96 396.70,501.94 397.00,501.92 397.30,501.90 397.60,501.88 397.90,501.86 398.20,501.84 398.50,501.82 398.80,501.80 399.10,501.78 399.40,501.76 399.70,501.74 400.00,501.72 400.30,501.70 400.60,501.68 400.90,501.66 401.20,501.64 401.50,501.62 401.80,501.60 402.10,501.58 402.40,501.55 402.70,501.53 403.00,501.51 403.30,501.49 403.60,501.47 403.90,501.45 404.20,501.43 404.50,501.41 404.80,501.38 405.10,501.36 405.40,501.34 405.70,501.32 406.00,501.30 406.30,501.27 406.60,501.25 406.90,501.23 407.20,501.21 407.50,501.18 407.80,501.16 408.10,501.14 408.40,501.12 408.70,501.09 409.00,501.07 409.30,501.05 409.60,501.02 409.90,501.00 410.20,500.98 410.50,500.95 410.80,500.93 411.10,500.91 411.40,500.88 411.70,500.86 412.00,500.84 412.30,500.81 412.60,500.79 412.90,500.76 413.20,500.74 413.50,500.72 413.70,500.70" fill="none" stroke="#de8c51" stroke-width="2.0" stroke-linejoin="round" stroke-linecap="round" />
<line x1="290.50" y1="333.90" x2="290.50" y2="526.00" stroke="#4a4a4a" stroke-width="1.0" stroke-dasharray="4.7,2.9"/>
<line x1="328.40" y1="348.80" x2="328.40" y2="526.00" stroke="#4a4a4a" stroke-width="1.0" stroke-dasharray="4.7,2.9"/>
<polyline points="483.40,382.00 483.70,381.83 484.00,381.66 484.30,381.49 484.60,381.31 484.90,381.14 485.20,380.96 485.50,380.77 485.80,380.59 486.10,380.40 486.40,380.22 486.70,380.03 487.00,379.84 487.30,379.64 487.60,379.45 487.90,379.25 488.20,379.05 488.50,378.85 488.80,378.64 489.10,378.44 489.40,378.23 489.70,378.02 490.00,377.81 490.30,377.60 490.60,377.39 490.90,377.17 491.20,376.96 491.50,376.74 491.80,376.52 492.10,376.30 492.40,376.07 492.70,375.85 493.00,375.63 493.30,375.40 493.60,375.17 493.90,374.94 494.20,374.71 494.50,374.48 494.80,374.25 495.10,374.01 495.40,373.77 495.70,373.53 496.00,373.28 496.30,373.04 496.60,372.79 496.90,372.54 497.20,372.28 497.50,372.02 497.80,371.76 498.10,371.49 498.40,371.22 498.70,370.95 499.00,370.67 499.30,370.38 499.60,370.10 499.90,369.80 500.20,369.51 500.50,369.20 500.80,368.90 501.10,368.58 501.40,368.25 501.70,367.91 502.00,367.57 502.30,367.21 502.60,366.84 502.90,366.46 503.20,366.08 503.50,365.68 503.80,365.27 504.10,364.86 504.40,364.43 504.70,363.98 505.00,363.51 505.30,363.03 505.60,362.54 505.90,362.05 506.20,361.54 506.50,361.04 506.80,360.53 507.10,360.00 507.40,359.45 507.70,358.90 508.00,358.35 508.30,357.83 508.60,357.33 508.90,356.77 509.20,356.19 509.50,355.69 509.80,355.37 510.10,355.31 510.40,355.49 510.70,355.82 511.00,356.22 511.30,356.65 511.60,357.20 511.90,357.89 512.20,358.65 512.50,359.41 512.80,360.10 513.10,360.68 513.40,361.21 513.70,361.73 514.00,362.23 514.30,362.71 514.60,363.17 514.90,363.61 515.20,364.02 515.50,364.41 515.80,364.77 516.10,365.11 516.40,365.43 516.70,365.74 517.00,366.05 517.30,366.34 517.60,366.62 517.90,366.90 518.20,367.16 518.50,367.41 518.80,367.66 519.10,367.89 519.40,368.11 519.70,368.32 520.00,368.52 520.30,368.71 520.60,368.89 520.90,369.05 521.20,369.21 521.50,369.37 521.80,369.52 522.10,369.67 522.40,369.82 522.70,369.96 523.00,370.10 523.30,370.23 523.60,370.36 523.90,370.49 524.20,370.61 524.50,370.73 524.80,370.84 525.10,370.96 525.40,371.06 525.70,371.16 526.00,371.26 526.30,371.35 526.60,371.44 526.90,371.53 527.20,371.61 527.50,371.68 527.80,371.76 528.10,371.82 528.40,371.89 528.70,371.95 529.00,372.02 529.30,372.09 529.60,372.15 529.90,372.21 530.20,372.28 530.50,372.34 530.80,372.40 531.10,372.46 531.40,372.52 531.70,372.58 532.00,372.63 532.30,372.69 532.60,372.74 532.90,372.79 533.20,372.84 533.50,372.89 533.80,372.93 534.10,372.97 534.40,373.01 534.70,373.04 535.00,373.07 535.30,373.10 535.60,373.13 535.90,373.15 536.20,373.17 536.50,373.18 536.80,373.19 537.10,373.20 537.40,373.20 537.70,373.20 538.00,373.20 538.30,373.19 538.60,373.18 538.90,373.17 539.20,373.16 539.50,373.15 539.80,373.13 540.10,373.11 540.40,373.09 540.70,373.07 541.00,373.05 541.30,373.02 541.60,373.00 541.90,372.97 542.20,372.94 542.50,372.91 542.80,372.88 543.10,372.85 543.40,372.82 543.70,372.78 544.00,372.75 544.30,372.71 544.60,372.68 544.90,372.64 545.20,372.60 545.50,372.56 545.80,372.53 546.10,372.49 546.40,372.44 546.70,372.40 547.00,372.34 547.30,372.28 547.60,372.22 547.90,372.15 548.20,372.08 548.50,372.01 548.80,371.93 549.10,371.84 549.40,371.75 549.70,371.66 550.00,371.57 550.30,371.47 550.60,371.36 550.90,371.26 551.20,371.15 551.50,371.04 551.80,370.92 552.10,370.80 552.40,370.68 552.70,370.56 553.00,370.43 553.30,370.31 553.60,370.18 553.90,370.04 554.20,369.91 554.50,369.76 554.80,369.61 555.10,369.44 555.40,369.27 555.70,369.08 556.00,368.88 556.30,368.68 556.60,368.46 556.90,368.23 557.20,367.99 557.50,367.74 557.80,367.48 558.10,367.21 558.40,366.91 558.70,366.58 559.00,366.22 559.30,365.84 559.60,365.44 559.90,365.01 560.20,364.57 560.50,364.11 560.80,363.63 561.10,363.13 561.40,362.58 561.70,361.97 562.00,361.32 562.30,360.64 562.60,359.96 562.90,359.28 563.20,358.62 563.50,358.00 563.80,357.33 564.10,356.59 564.40,355.86 564.70,355.26 565.00,354.88 565.30,354.81 565.60,354.96 565.90,355.25 566.20,355.64 566.50,356.07 566.80,356.50 567.10,356.98 567.40,357.57 567.70,358.23 568.00,358.94 568.30,359.67 568.60,360.38 568.90,361.04 569.20,361.63 569.50,362.13 569.80,362.62 570.10,363.08 570.40,363.53 570.70,363.96 571.00,364.37 571.30,364.74 571.60,365.09 571.90,365.40 572.20,365.69 572.50,365.96 572.80,366.23 573.10,366.48 573.40,366.72 573.70,366.95 574.00,367.16 574.30,367.35 574.60,367.52 574.90,367.67 575.20,367.80 575.50,367.92 575.80,368.03 576.10,368.14 576.40,368.24 576.70,368.34 577.00,368.43 577.30,368.53 577.60,368.61 577.90,368.70 578.20,368.78 578.50,368.86 578.80,368.93 579.10,369.00 579.40,369.06 579.70,369.13 580.00,369.19 580.30,369.24 580.60,369.29 580.90,369.34 581.20,369.39 581.50,369.43 581.80,369.47 582.10,369.51 582.40,369.55 582.70,369.58 583.00,369.62 583.30,369.65 583.60,369.68 583.90,369.71 584.20,369.74 584.50,369.77 584.80,369.80 585.10,369.82 585.40,369.85 585.70,369.87 586.00,369.89 586.30,369.92 586.60,369.94 586.90,369.96 587.20,369.98 587.50,370.00 587.80,370.02 588.10,370.03 588.40,370.05 588.70,370.07 589.00,370.08 589.30,370.10 589.60,370.11 589.90,370.12 590.20,370.14 590.50,370.15 590.80,370.16 591.10,370.18 591.40,370.19 591.70,370.20 592.00,370.22 592.30,370.23 592.60,370.24 592.90,370.25 593.20,370.26 593.50,370.28 593.80,370.29 594.10,370.30 594.40,370.31 594.70,370.32 595.00,370.33 595.30,370.34 595.60,370.35 595.90,370.36 596.20,370.37 596.50,370.38 596.80,370.39 597.10,370.40 597.40,370.41 597.70,370.42 598.00,370.43 598.30,370.44 598.60,370.45 598.90,370.46 599.20,370.47 599.50,370.48 599.80,370.49 600.10,370.49 600.40,370.50 600.70,370.51 601.00,370.52 601.30,370.53 601.60,370.54 601.90,370.54 602.20,370.55 602.50,370.56 602.80,370.57 603.10,370.57 603.40,370.58 603.70,370.59 604.00,370.60 604.30,370.60 604.60,370.61 604.90,370.62 605.20,370.63 605.50,370.63 605.80,370.64 606.10,370.65 606.40,370.65 606.70,370.66 607.00,370.67 607.30,370.67 607.60,370.68 607.90,370.69 608.20,370.69 608.50,370.70 608.80,370.71 609.10,370.71 609.40,370.72 609.70,370.73 610.00,370.73 610.30,370.74 610.60,370.75 610.90,370.75 611.20,370.76 611.50,370.77 611.80,370.77 612.10,370.78 612.40,370.79 612.70,370.79 613.00,370.80 613.30,370.80 613.60,370.81 613.90,370.82 614.20,370.82 614.50,370.83 614.80,370.84 615.10,370.84 615.40,370.85 615.70,370.86 616.00,370.86 616.30,370.87 616.60,370.87 616.90,370.88 617.20,370.89 617.50,370.89 617.80,370.90 618.10,370.90 618.40,370.91 618.70,370.92 619.00,370.92 619.30,370.93 619.60,370.93 619.90,370.94 620.20,370.95 620.50,370.95 620.80,370.96 621.10,370.96 621.40,370.97 621.70,370.98 622.00,370.98 622.30,370.99 622.60,370.99 622.90,371.00 623.20,371.01 623.50,371.01 623.80,371.02 624.10,371.02 624.40,371.03 624.70,371.03 625.00,371.04 625.30,371.04 625.60,371.05 625.90,371.06 626.20,371.06 626.50,371.07 626.80,371.07 627.10,371.08 627.40,371.08 627.70,371.09 628.00,371.09 628.30,371.10 628.60,371.10 628.90,371.11 629.20,371.11 629.50,371.12 629.80,371.12 630.10,371.13 630.40,371.13 630.70,371.14 631.00,371.14 631.30,371.15 631.60,371.15 631.90,371.16 632.20,371.16 632.50,371.17 632.80,371.17 633.10,371.17 633.40,371.18 633.70,371.18 634.00,371.19 634.30,371.19 634.60,371.20 634.90,371.20 635.20,371.20 635.50,371.21 635.80,371.21 636.10,371.22 636.40,371.22 636.70,371.22 637.00,371.23 637.30,371.23 637.60,371.24 637.90,371.24 638.20,371.24 638.50,371.25 638.80,371.25 639.10,371.25 639.40,371.26 639.70,371.26 640.00,371.27 640.30,371.27 640.60,371.27 640.90,371.28 641.20,371.28 641.50,371.28 641.80,371.28 642.10,371.29 642.40,371.29 642.70,371.29 643.00,371.30 643.30,371.30 643.40,371.30" fill="none" stroke="#f3dac3" stroke-width="1.6" stroke-linejoin="round" stroke-linecap="round" />
<polyline points="483.40,451.00 483.70,450.90 484.00,450.80 484.30,450.69 484.60,450.59 484.90,450.48 485.20,450.37 485.50,450.26 485.80,450.15 486.10,450.03 486.40,449.92 486.70,449.80 487.00,449.69 487.30,449.57 487.60,449.45 487.90,449.32 488.20,449.20 488.50,449.08 488.80,448.95 489.10,448.83 489.40,448.70 489.70,448.57 490.00,448.44 490.30,448.31 490.60,448.17 490.90,448.04 491.20,447.90 491.50,447.77 491.80,447.63 492.10,447.49 492.40,447.35 492.70,447.21 493.00,447.07 493.30,446.93 493.60,446.78 493.90,446.64 494.20,446.49 494.50,446.35 494.80,446.20 495.10,446.05 495.40,445.90 495.70,445.75 496.00,445.59 496.30,445.44 496.60,445.28 496.90,445.12 497.20,444.96 497.50,444.80 497.80,444.63 498.10,444.47 498.40,444.30 498.70,444.13 499.00,443.96 499.30,443.79 499.60,443.61 499.90,443.44 500.20,443.26 500.50,443.08 500.80,442.91 501.10,442.72 501.40,442.54 501.70,442.36 502.00,442.17 502.30,441.99 502.60,441.80 502.90,441.61 503.20,441.42 503.50,441.23 503.80,441.03 504.10,440.84 504.40,440.64 504.70,440.44 505.00,440.25 505.30,440.05 505.60,439.85 505.90,439.64 506.20,439.44 506.50,439.24 506.80,439.03 507.10,438.82 507.40,438.61 507.70,438.40 508.00,438.18 508.30,437.96 508.60,437.73 508.90,437.51 509.20,437.27 509.50,437.04 509.80,436.80 510.10,436.56 510.40,436.31 510.70,436.06 511.00,435.80 511.30,435.54 511.60,435.29 511.90,435.03 512.20,434.77 512.50,434.49 512.80,434.20 513.10,433.89 513.40,433.56 513.70,433.20 514.00,432.80 514.30,432.35 514.60,431.87 514.90,431.35 515.20,430.79 515.50,430.22 515.80,429.62 516.10,429.01 516.40,428.37 516.70,427.68 517.00,426.94 517.30,426.17 517.60,425.39 517.90,424.61 518.20,423.85 518.50,423.08 518.80,422.24 519.10,421.39 519.40,420.60 519.70,419.94 520.00,419.50 520.30,419.20 520.60,418.95 520.90,418.81 521.20,418.85 521.50,419.09 521.80,419.46 522.10,419.87 522.40,420.30 522.70,420.86 523.00,421.51 523.30,422.22 523.60,422.94 523.90,423.63 524.20,424.25 524.50,424.76 524.80,425.22 525.10,425.67 525.40,426.09 525.70,426.50 526.00,426.88 526.30,427.25 526.60,427.59 526.90,427.92 527.20,428.22 527.50,428.50 527.80,428.76 528.10,429.02 528.40,429.27 528.70,429.50 529.00,429.73 529.30,429.95 529.60,430.16 529.90,430.37 530.20,430.57 530.50,430.76 530.80,430.94 531.10,431.12 531.40,431.30 531.70,431.46 532.00,431.63 532.30,431.79 532.60,431.95 532.90,432.10 533.20,432.26 533.50,432.41 533.80,432.55 534.10,432.70 534.40,432.84 534.70,432.99 535.00,433.12 535.30,433.26 535.60,433.39 535.90,433.52 536.20,433.64 536.50,433.77 536.80,433.88 537.10,434.00 537.40,434.10 537.70,434.21 538.00,434.31 538.30,434.40 538.60,434.49 538.90,434.57 539.20,434.65 539.50,434.73 539.80,434.81 540.10,434.89 540.40,434.97 540.70,435.05 541.00,435.13 541.30,435.21 541.60,435.29 541.90,435.36 542.20,435.44 542.50,435.51 542.80,435.58 543.10,435.64 543.40,435.71 543.70,435.76 544.00,435.82 544.30,435.87 544.60,435.92 544.90,435.96 545.20,436.00 545.50,436.03 545.80,436.06 546.10,436.08 546.40,436.09 546.70,436.10 547.00,436.10 547.30,436.10 547.60,436.09 547.90,436.09 548.20,436.08 548.50,436.07 548.80,436.06 549.10,436.05 549.40,436.04 549.70,436.02 550.00,436.01 550.30,435.99 550.60,435.97 550.90,435.95 551.20,435.93 551.50,435.91 551.80,435.89 552.10,435.86 552.40,435.84 552.70,435.81 553.00,435.79 553.30,435.76 553.60,435.74 553.90,435.71 554.20,435.68 554.50,435.65 554.80,435.61 555.10,435.58 555.40,435.53 555.70,435.49 556.00,435.44 556.30,435.39 556.60,435.33 556.90,435.27 557.20,435.21 557.50,435.14 557.80,435.08 558.10,435.01 558.40,434.93 558.70,434.86 559.00,434.78 559.30,434.70 559.60,434.61 559.90,434.53 560.20,434.44 560.50,434.35 560.80,434.26 561.10,434.17 561.40,434.07 561.70,433.96 562.00,433.84 562.30,433.71 562.60,433.58 562.90,433.43 563.20,433.28 563.50,433.13 563.80,432.96 564.10,432.79 564.40,432.62 564.70,432.44 565.00,432.25 565.30,432.06 565.60,431.87 565.90,431.67 566.20,431.46 566.50,431.25 566.80,431.02 567.10,430.78 567.40,430.53 567.70,430.27 568.00,430.00 568.30,429.72 568.60,429.43 568.90,429.13 569.20,428.83 569.50,428.52 569.80,428.20 570.10,427.88 570.40,427.55 570.70,427.22 571.00,426.89 571.30,426.55 571.60,426.21 571.90,425.87 572.20,425.51 572.50,425.13 572.80,424.74 573.10,424.35 573.40,423.94 573.70,423.52 574.00,423.10 574.30,422.68 574.60,422.26 574.90,421.83 575.20,421.41 575.50,421.00 575.80,420.56 576.10,420.09 576.40,419.61 576.70,419.13 577.00,418.68 577.30,418.29 577.60,417.96 577.90,417.73 578.20,417.52 578.50,417.34 578.80,417.22 579.10,417.21 579.40,417.27 579.70,417.41 580.00,417.58 580.30,417.77 580.60,417.96 580.90,418.19 581.20,418.44 581.50,418.73 581.80,419.04 582.10,419.36 582.40,419.69 582.70,420.03 583.00,420.40 583.30,420.80 583.60,421.21 583.90,421.62 584.20,422.01 584.50,422.38 584.80,422.70 585.10,423.02 585.40,423.32 585.70,423.62 586.00,423.92 586.30,424.20 586.60,424.48 586.90,424.75 587.20,425.01 587.50,425.26 587.80,425.49 588.10,425.72 588.40,425.92 588.70,426.12 589.00,426.30 589.30,426.47 589.60,426.63 589.90,426.79 590.20,426.94 590.50,427.08 590.80,427.22 591.10,427.36 591.40,427.49 591.70,427.61 592.00,427.73 592.30,427.85 592.60,427.96 592.90,428.07 593.20,428.17 593.50,428.27 593.80,428.37 594.10,428.47 594.40,428.56 594.70,428.65 595.00,428.75 595.30,428.84 595.60,428.93 595.90,429.01 596.20,429.10 596.50,429.18 596.80,429.27 597.10,429.35 597.40,429.43 597.70,429.51 598.00,429.59 598.30,429.66 598.60,429.74 598.90,429.81 599.20,429.88 599.50,429.95 599.80,430.02 600.10,430.08 600.40,430.15 600.70,430.21 601.00,430.26 601.30,430.32 601.60,430.38 601.90,430.43 602.20,430.48 602.50,430.53 602.80,430.57 603.10,430.61 603.40,430.66 603.70,430.70 604.00,430.74 604.30,430.78 604.60,430.82 604.90,430.85 605.20,430.89 605.50,430.93 605.80,430.96 606.10,431.00 606.40,431.03 606.70,431.07 607.00,431.10 607.30,431.13 607.60,431.16 607.90,431.20 608.20,431.23 608.50,431.25 608.80,431.28 609.10,431.31 609.40,431.34 609.70,431.36 610.00,431.39 610.30,431.41 610.60,431.44 610.90,431.46 611.20,431.48 611.50,431.50 611.80,431.52 612.10,431.54 612.40,431.56 612.70,431.58 613.00,431.59 613.30,431.61 613.60,431.63 613.90,431.64 614.20,431.66 614.50,431.67 614.80,431.69 615.10,431.71 615.40,431.72 615.70,431.74 616.00,431.75 616.30,431.77 616.60,431.78 616.90,431.80 617.20,431.82 617.50,431.83 617.80,431.85 618.10,431.86 618.40,431.88 618.70,431.89 619.00,431.91 619.30,431.92 619.60,431.93 619.90,431.95 620.20,431.96 620.50,431.98 620.80,431.99 621.10,432.01 621.40,432.02 621.70,432.03 622.00,432.05 622.30,432.06 622.60,432.08 622.90,432.09 623.20,432.10 623.50,432.11 623.80,432.13 624.10,432.14 624.40,432.15 624.70,432.17 625.00,432.18 625.30,432.19 625.60,432.20 625.90,432.22 626.20,432.23 626.50,432.24 626.80,432.25 627.10,432.26 627.40,432.27 627.70,432.28 628.00,432.30 628.30,432.31 628.60,432.32 628.90,432.33 629.20,432.34 629.50,432.35 629.80,432.36 630.10,432.37 630.40,432.38 630.70,432.39 631.00,432.40 631.30,432.41 631.60,432.41 631.90,432.42 632.20,432.43 632.50,432.44 632.80,432.45 633.10,432.46 633.40,432.46 633.70,432.47 634.00,432.48 634.30,432.49 634.60,432.49 634.90,432.50 635.20,432.51 635.50,432.51 635.80,432.52 636.10,432.53 636.40,432.53 636.70,432.54 637.00,432.54 637.30,432.55 637.60,432.55 637.90,432.56 638.20,432.56 638.50,432.57 638.80,432.57 639.10,432.57 639.40,432.58 639.70,432.58 640.00,432.58 640.30,432.59 640.60,432.59 640.90,432.59 641.20,432.59 641.50,432.59 641.80,432.60 642.10,432.60 642.40,432.60 642.70,432.60 643.00,432.60 643.30,432.60 643.40,432.60" fill="none" stroke="#e9b486" stroke-width="1.8" stroke-linejoin="round" stroke-linecap="round" />
<polyline points="483.40,521.60 483.70,521.48 484.00,521.35 484.30,521.23 484.60,521.10 484.90,520.98 485.20,520.85 485.50,520.73 485.80,520.60 486.10,520.48 486.40,520.35 486.70,520.23 487.00,520.10 487.30,519.98 487.60,519.86 487.90,519.73 488.20,519.61 488.50,519.48 488.80,519.36 489.10,519.24 489.40,519.11 489.70,518.99 490.00,518.87 490.30,518.74 490.60,518.62 490.90,518.50 491.20,518.37 491.50,518.25 491.80,518.13 492.10,518.00 492.40,517.88 492.70,517.76 493.00,517.64 493.30,517.51 493.60,517.39 493.90,517.27 494.20,517.14 494.50,517.02 494.80,516.90 495.10,516.78 495.40,516.66 495.70,516.54 496.00,516.42 496.30,516.31 496.60,516.19 496.90,516.08 497.20,515.97 497.50,515.86 497.80,515.75 498.10,515.64 498.40,515.53 498.70,515.42 499.00,515.31 499.30,515.20 499.60,515.09 499.90,514.98 500.20,514.86 500.50,514.75 500.80,514.64 501.10,514.53 501.40,514.41 501.70,514.30 502.00,514.18 502.30,514.07 502.60,513.95 502.90,513.83 503.20,513.70 503.50,513.58 503.80,513.45 504.10,513.32 504.40,513.19 504.70,513.06 505.00,512.92 505.30,512.79 505.60,512.64 505.90,512.50 506.20,512.35 506.50,512.20 506.80,512.05 507.10,511.89 507.40,511.72 507.70,511.55 508.00,511.38 508.30,511.19 508.60,511.00 508.90,510.80 509.20,510.59 509.50,510.38 509.80,510.15 510.10,509.92 510.40,509.68 510.70,509.43 511.00,509.16 511.30,508.88 511.60,508.58 511.90,508.26 512.20,507.91 512.50,507.53 512.80,507.12 513.10,506.65 513.40,506.13 513.70,505.55 514.00,504.92 514.30,504.24 514.60,503.50 514.90,502.62 515.20,501.58 515.50,500.44 515.80,499.29 516.10,498.20 516.40,497.15 516.70,496.08 517.00,495.03 517.30,494.01 517.60,493.07 517.90,492.22 518.20,491.36 518.50,490.52 518.80,489.78 519.10,489.23 519.40,488.92 519.70,488.71 520.00,488.56 520.30,488.50 520.60,488.57 520.90,488.76 521.20,489.02 521.50,489.30 521.80,489.63 522.10,490.06 522.40,490.56 522.70,491.09 523.00,491.64 523.30,492.18 523.60,492.75 523.90,493.36 524.20,493.99 524.50,494.62 524.80,495.25 525.10,495.86 525.40,496.42 525.70,496.95 526.00,497.46 526.30,497.97 526.60,498.45 526.90,498.92 527.20,499.37 527.50,499.79 527.80,500.18 528.10,500.54 528.40,500.89 528.70,501.23 529.00,501.57 529.30,501.89 529.60,502.20 529.90,502.50 530.20,502.79 530.50,503.06 530.80,503.32 531.10,503.57 531.40,503.79 531.70,504.01 532.00,504.20 532.30,504.39 532.60,504.57 532.90,504.76 533.20,504.95 533.50,505.13 533.80,505.32 534.10,505.49 534.40,505.66 534.70,505.82 535.00,505.96 535.30,506.10 535.60,506.22 535.90,506.33 536.20,506.42 536.50,506.50 536.80,506.55 537.10,506.59 537.40,506.60 537.70,506.59 538.00,506.58 538.30,506.55 538.60,506.51 538.90,506.46 539.20,506.41 539.50,506.35 539.80,506.28 540.10,506.20 540.40,506.12 540.70,506.03 541.00,505.93 541.30,505.84 541.60,505.74 541.90,505.63 542.20,505.53 542.50,505.39 542.80,505.24 543.10,505.06 543.40,504.86 543.70,504.64 544.00,504.40 544.30,504.14 544.60,503.86 544.90,503.57 545.20,503.26 545.50,502.93 545.80,502.58 546.10,502.17 546.40,501.68 546.70,501.12 547.00,500.52 547.30,499.87 547.60,499.18 547.90,498.47 548.20,497.74 548.50,497.00 548.80,496.22 549.10,495.38 549.40,494.48 549.70,493.53 550.00,492.55 550.30,491.55 550.60,490.54 550.90,489.54 551.20,488.56 551.50,487.61 551.80,486.68 552.10,485.75 552.40,484.82 552.70,483.90 553.00,482.99 553.30,482.13 553.60,481.30 553.90,480.50 554.20,479.71 554.50,478.94 554.80,478.23 555.10,477.58 555.40,477.02 555.70,476.47 556.00,475.95 556.30,475.50 556.60,475.15 556.90,474.94 557.20,474.78 557.50,474.65 557.80,474.55 558.10,474.50 558.40,474.51 558.70,474.56 559.00,474.66 559.30,474.77 559.60,474.91 559.90,475.05 560.20,475.26 560.50,475.53 560.80,475.86 561.10,476.24 561.40,476.64 561.70,477.07 562.00,477.51 562.30,477.95 562.60,478.43 562.90,478.95 563.20,479.51 563.50,480.10 563.80,480.72 564.10,481.35 564.40,481.99 564.70,482.64 565.00,483.35 565.30,484.11 565.60,484.88 565.90,485.66 566.20,486.43 566.50,487.17 566.80,487.87 567.10,488.51 567.40,489.12 567.70,489.72 568.00,490.29 568.30,490.85 568.60,491.39 568.90,491.89 569.20,492.36 569.50,492.80 569.80,493.21 570.10,493.61 570.40,494.00 570.70,494.37 571.00,494.73 571.30,495.08 571.60,495.40 571.90,495.71 572.20,496.00 572.50,496.27 572.80,496.52 573.10,496.75 573.40,496.98 573.70,497.20 574.00,497.41 574.30,497.61 574.60,497.80 574.90,497.99 575.20,498.16 575.50,498.33 575.80,498.49 576.10,498.63 576.40,498.77 576.70,498.89 577.00,499.00 577.30,499.10 577.60,499.20 577.90,499.30 578.20,499.39 578.50,499.48 578.80,499.57 579.10,499.65 579.40,499.73 579.70,499.80 580.00,499.87 580.30,499.94 580.60,500.00 580.90,500.06 581.20,500.12 581.50,500.17 581.80,500.22 582.10,500.27 582.40,500.31 582.70,500.36 583.00,500.40 583.30,500.44 583.60,500.48 583.90,500.52 584.20,500.56 584.50,500.60 584.80,500.63 585.10,500.67 585.40,500.71 585.70,500.74 586.00,500.78 586.30,500.81 586.60,500.85 586.90,500.88 587.20,500.91 587.50,500.94 587.80,500.98 588.10,501.01 588.40,501.04 588.70,501.07 589.00,501.10 589.30,501.12 589.60,501.15 589.90,501.18 590.20,501.21 590.50,501.24 590.80,501.26 591.10,501.29 591.40,501.31 591.70,501.34 592.00,501.36 592.30,501.39 592.60,501.41 592.90,501.44 593.20,501.46 593.50,501.48 593.80,501.51 594.10,501.53 594.40,501.55 594.70,501.57 595.00,501.59 595.30,501.61 595.60,501.64 595.90,501.66 596.20,501.68 596.50,501.70 596.80,501.72 597.10,501.74 597.40,501.76 597.70,501.78 598.00,501.80 598.30,501.82 598.60,501.84 598.90,501.86 599.20,501.87 599.50,501.89 599.80,501.91 600.10,501.93 600.40,501.95 600.70,501.97 601.00,501.99 601.30,502.01 601.60,502.02 601.90,502.04 602.20,502.06 602.50,502.08 602.80,502.10 603.10,502.11 603.40,502.13 603.70,502.15 604.00,502.17 604.30,502.18 604.60,502.20 604.90,502.21 605.20,502.23 605.50,502.25 605.80,502.26 606.10,502.28 606.40,502.29 606.70,502.31 607.00,502.32 607.30,502.34 607.60,502.35 607.90,502.37 608.20,502.38 608.50,502.40 608.80,502.41 609.10,502.43 609.40,502.44 609.70,502.45 610.00,502.47 610.30,502.48 610.60,502.50 610.90,502.51 611.20,502.52 611.50,502.54 611.80,502.55 612.10,502.56 612.40,502.58 612.70,502.59 613.00,502.60 613.30,502.62 613.60,502.63 613.90,502.64 614.20,502.65 614.50,502.67 614.80,502.68 615.10,502.69 615.40,502.71 615.70,502.72 616.00,502.73 616.30,502.74 616.60,502.76 616.90,502.77 617.20,502.78 617.50,502.79 617.80,502.81 618.10,502.82 618.40,502.83 618.70,502.84 619.00,502.86 619.30,502.87 619.60,502.88 619.90,502.90 620.20,502.91 620.50,502.92 620.80,502.93 621.10,502.95 621.40,502.96 621.70,502.97 622.00,502.99 622.30,503.00 622.60,503.01 622.90,503.02 623.20,503.04 623.50,503.05 623.80,503.06 624.10,503.07 624.40,503.09 624.70,503.10 625.00,503.11 625.30,503.12 625.60,503.13 625.90,503.15 626.20,503.16 626.50,503.17 626.80,503.18 627.10,503.20 627.40,503.21 627.70,503.22 628.00,503.23 628.30,503.24 628.60,503.26 628.90,503.27 629.20,503.28 629.50,503.29 629.80,503.30 630.10,503.32 630.40,503.33 630.70,503.34 631.00,503.35 631.30,503.36 631.60,503.37 631.90,503.39 632.20,503.40 632.50,503.41 632.80,503.42 633.10,503.43 633.40,503.44 633.70,503.45 634.00,503.47 634.30,503.48 634.60,503.49 634.90,503.50 635.20,503.51 635.50,503.52 635.80,503.53 636.10,503.54 636.40,503.56 636.70,503.57 637.00,503.58 637.30,503.59 637.60,503.60 637.90,503.61 638.20,503.62 638.50,503.63 638.80,503.64 639.10,503.65 639.40,503.66 639.70,503.67 640.00,503.68 640.30,503.69 640.60,503.70 640.90,503.72 641.20,503.73 641.50,503.74 641.80,503.75 642.10,503.76 642.40,503.77 642.70,503.78 643.00,503.79 643.30,503.80 643.40,503.80" fill="none" stroke="#e08a4b" stroke-width="2.0" stroke-linejoin="round" stroke-linecap="round" />
<line x1="510.80" y1="340.60" x2="510.80" y2="377.20" stroke="#4a4a4a" stroke-width="1.0" stroke-dasharray="4.7,2.9"/>
<line x1="565.10" y1="346.50" x2="565.10" y2="374.90" stroke="#4a4a4a" stroke-width="1.0" stroke-dasharray="4.7,2.9"/>
<line x1="520.70" y1="401.30" x2="520.70" y2="526.00" stroke="#4a4a4a" stroke-width="1.0" stroke-dasharray="4.7,2.9"/>
<line x1="578.80" y1="409.60" x2="578.80" y2="438.00" stroke="#4a4a4a" stroke-width="1.0" stroke-dasharray="4.7,2.9"/>
<line x1="558.20" y1="461.50" x2="558.20" y2="526.00" stroke="#333" stroke-width="1.0" stroke-dasharray="4.7,2.9"/>
<rect x="28.4" y="298.2" width="160.0" height="228.2" fill="none" stroke="#5e5e5e" stroke-width="1.1"/>
<line x1="28.40" y1="526.40" x2="28.40" y2="532.40" stroke="#5e5e5e" stroke-width="1" />
<line x1="55.07" y1="526.40" x2="55.07" y2="529.40" stroke="#5e5e5e" stroke-width="1" />
<line x1="81.73" y1="526.40" x2="81.73" y2="532.40" stroke="#5e5e5e" stroke-width="1" />
<line x1="108.40" y1="526.40" x2="108.40" y2="529.40" stroke="#5e5e5e" stroke-width="1" />
<line x1="135.07" y1="526.40" x2="135.07" y2="532.40" stroke="#5e5e5e" stroke-width="1" />
<line x1="161.73" y1="526.40" x2="161.73" y2="529.40" stroke="#5e5e5e" stroke-width="1" />
<line x1="188.40" y1="526.40" x2="188.40" y2="532.40" stroke="#5e5e5e" stroke-width="1" />
<text transform="translate(28.50,531.90) rotate(-45)" font-size="14" text-anchor="end" dy="10">1800</text>
<text transform="translate(81.83,531.90) rotate(-45)" font-size="14" text-anchor="end" dy="10">2000</text>
<text transform="translate(135.17,531.90) rotate(-45)" font-size="14" text-anchor="end" dy="10">2200</text>
<text transform="translate(188.50,531.90) rotate(-45)" font-size="14" text-anchor="end" dy="10">2400</text>
<text x="108.40" y="574.60" font-size="14.5" fill="#000" text-anchor="middle" >Wavenumber (cm<tspan font-size="9.5" dy="-5.5">−1</tspan><tspan dy="5.5">)</tspan></text>
<text transform="rotate(-90 19.70 413.5)" x="19.70" y="413.5" font-size="14.5" text-anchor="middle">Absorbance (arb. units)</text>
<rect x="253.6" y="298.2" width="160.0" height="228.2" fill="none" stroke="#5e5e5e" stroke-width="1.1"/>
<line x1="253.60" y1="526.40" x2="253.60" y2="532.40" stroke="#5e5e5e" stroke-width="1" />
<line x1="280.27" y1="526.40" x2="280.27" y2="529.40" stroke="#5e5e5e" stroke-width="1" />
<line x1="306.93" y1="526.40" x2="306.93" y2="532.40" stroke="#5e5e5e" stroke-width="1" />
<line x1="333.60" y1="526.40" x2="333.60" y2="529.40" stroke="#5e5e5e" stroke-width="1" />
<line x1="360.27" y1="526.40" x2="360.27" y2="532.40" stroke="#5e5e5e" stroke-width="1" />
<line x1="386.93" y1="526.40" x2="386.93" y2="529.40" stroke="#5e5e5e" stroke-width="1" />
<line x1="413.60" y1="526.40" x2="413.60" y2="532.40" stroke="#5e5e5e" stroke-width="1" />
<text transform="translate(253.70,531.90) rotate(-45)" font-size="14" text-anchor="end" dy="10">1800</text>
<text transform="translate(307.03,531.90) rotate(-45)" font-size="14" text-anchor="end" dy="10">2000</text>
<text transform="translate(360.37,531.90) rotate(-45)" font-size="14" text-anchor="end" dy="10">2200</text>
<text transform="translate(413.70,531.90) rotate(-45)" font-size="14" text-anchor="end" dy="10">2400</text>
<text x="333.60" y="574.60" font-size="14.5" fill="#000" text-anchor="middle" >Wavenumber (cm<tspan font-size="9.5" dy="-5.5">−1</tspan><tspan dy="5.5">)</tspan></text>
<text transform="rotate(-90 244.90 413.5)" x="244.90" y="413.5" font-size="14.5" text-anchor="middle">Absorbance (arb. units)</text>
<rect x="483.4" y="298.2" width="160.0" height="228.2" fill="none" stroke="#5e5e5e" stroke-width="1.1"/>
<line x1="483.40" y1="526.40" x2="483.40" y2="532.40" stroke="#5e5e5e" stroke-width="1" />
<line x1="510.07" y1="526.40" x2="510.07" y2="529.40" stroke="#5e5e5e" stroke-width="1" />
<line x1="536.73" y1="526.40" x2="536.73" y2="532.40" stroke="#5e5e5e" stroke-width="1" />
<line x1="563.40" y1="526.40" x2="563.40" y2="529.40" stroke="#5e5e5e" stroke-width="1" />
<line x1="590.07" y1="526.40" x2="590.07" y2="532.40" stroke="#5e5e5e" stroke-width="1" />
<line x1="616.73" y1="526.40" x2="616.73" y2="529.40" stroke="#5e5e5e" stroke-width="1" />
<line x1="643.40" y1="526.40" x2="643.40" y2="532.40" stroke="#5e5e5e" stroke-width="1" />
<text transform="translate(483.50,531.90) rotate(-45)" font-size="14" text-anchor="end" dy="10">1800</text>
<text transform="translate(536.83,531.90) rotate(-45)" font-size="14" text-anchor="end" dy="10">2000</text>
<text transform="translate(590.17,531.90) rotate(-45)" font-size="14" text-anchor="end" dy="10">2200</text>
<text transform="translate(643.50,531.90) rotate(-45)" font-size="14" text-anchor="end" dy="10">2400</text>
<text x="563.40" y="574.60" font-size="14.5" fill="#000" text-anchor="middle" >Wavenumber (cm<tspan font-size="9.5" dy="-5.5">−1</tspan><tspan dy="5.5">)</tspan></text>
<text transform="rotate(-90 474.70 413.5)" x="474.70" y="413.5" font-size="14.5" text-anchor="middle">Absorbance (arb. units)</text>
<polyline points="35.50,302.70 32.50,302.70 32.50,322.00 35.50,322.00" fill="none" stroke="#555" stroke-width="1"/>
<text x="37.00" y="316.50" font-size="14.6" fill="#000" text-anchor="start" >0.0005</text>
<polyline points="260.00,302.40 257.50,302.40 257.50,318.40 260.00,318.40" fill="none" stroke="#333" stroke-width="1"/>
<text x="260.80" y="315.20" font-size="14.6" fill="#000" text-anchor="start" >0.0005</text>
<polyline points="490.50,302.70 487.50,302.70 487.50,322.00 490.50,322.00" fill="none" stroke="#555" stroke-width="1"/>
<text x="492.40" y="316.50" font-size="14.6" fill="#000" text-anchor="start" >0.0005</text>
<text x="184.80" y="312.80" font-size="14.8" fill="#74a394" text-anchor="end" >Cu</text>
<text x="71.50" y="365.10" font-size="14" fill="#000" text-anchor="start" >Cu−CO<tspan font-size="9.5" dy="2.3">atop</tspan><tspan dy="-2.3"></tspan></text>
<rect x="186.40" y="344.10" width="4.00" height="16.00" fill="#fff"/>
<text x="161.90" y="356.60" font-size="14.3" fill="#cfe0da">-0.7 <tspan dx="-1.4">V</tspan></text>
<rect x="186.40" y="388.40" width="4.00" height="16.00" fill="#fff"/>
<text x="161.90" y="400.90" font-size="14.3" fill="#afcbc2">-0.6 <tspan dx="-1.4">V</tspan></text>
<rect x="186.40" y="417.40" width="4.00" height="16.00" fill="#fff"/>
<text x="161.90" y="429.90" font-size="14.3" fill="#8cb4a7">-0.5 <tspan dx="-1.4">V</tspan></text>
<rect x="186.40" y="452.90" width="4.00" height="16.00" fill="#fff"/>
<text x="161.90" y="465.40" font-size="14.3" fill="#6a9a8b">-0.4 <tspan dx="-1.4">V</tspan></text>
<text x="410.2" y="312.5" font-size="14.5" fill="#e8b68c" text-anchor="end">PdH<tspan font-size="9.5" dy="1.8">x</tspan><tspan dy="-1.8">/Cu</tspan></text>
<text x="257.80" y="331.30" font-size="14" fill="#000" text-anchor="start" >PdH<tspan font-size="9.5" dy="2">x</tspan><tspan dy="-2">−CO<tspan font-size="9.5" dy="2.3">bridge</tspan><tspan dy="-2.3"></tspan></tspan></text>
<text x="308.60" y="347.90" font-size="14" fill="#000" text-anchor="start" >Cu−CO<tspan font-size="9.5" dy="2.3">atop</tspan><tspan dy="-2.3"></tspan></text>
<rect x="411.60" y="362.80" width="4.00" height="16.00" fill="#fff"/>
<text x="387.70" y="375.30" font-size="14.3" fill="#f5e2ce">-0.7 <tspan dx="-1.4">V</tspan></text>
<rect x="411.60" y="403.40" width="4.00" height="16.00" fill="#fff"/>
<text x="387.70" y="415.90" font-size="14.3" fill="#edc6a3">-0.6 <tspan dx="-1.4">V</tspan></text>
<rect x="411.60" y="444.70" width="4.00" height="16.00" fill="#fff"/>
<text x="387.70" y="457.20" font-size="14.3" fill="#e6a97a">-0.5 <tspan dx="-1.4">V</tspan></text>
<rect x="411.60" y="483.00" width="4.00" height="16.00" fill="#fff"/>
<text x="387.70" y="495.50" font-size="14.3" fill="#de8c51">-0.4 <tspan dx="-1.4">V</tspan></text>
<text transform="rotate(-12.5 486.3 343.8)" x="486.3" y="343.8" font-size="14.3">Pd−<tspan font-size="9.5" dy="-5.5">13</tspan><tspan dy="5.5">CO<tspan font-size="9.5" dy="2.3">bridge</tspan><tspan dy="-2.3"></tspan></tspan></text>
<text transform="rotate(-12.5 534.8 351.2)" x="534.8" y="351.2" font-size="14.3">Cu−O<tspan font-size="9.5" dy="-5.5">13</tspan><tspan dy="5.5">CNO</tspan></text>
<text transform="rotate(-12.5 486.3 407.5)" x="486.3" y="407.5" font-size="14.3">Pd−<tspan font-size="9.5" dy="-5.5">12</tspan><tspan dy="5.5">CO<tspan font-size="9.5" dy="2.3">bridge</tspan><tspan dy="-2.3"></tspan></tspan></text>
<text transform="rotate(-13.5 545.4 415.6)" x="545.4" y="415.6" font-size="14.3">Cu−O<tspan font-size="9.5" dy="-5.5">12</tspan><tspan dy="5.5">CNO</tspan></text>
<text transform="rotate(-12.5 563.7 476.6)" x="563.7" y="476.6" font-size="14.3">Cu−<tspan font-size="9.5" dy="-5.5">12</tspan><tspan dy="5.5">CO<tspan font-size="9.5" dy="2.3">atop</tspan><tspan dy="-2.3"></tspan></tspan></text>
<rect x="641.00" y="336.00" width="5.00" height="31.30" fill="#fff"/>
<text x="643.40" y="349.00" font-size="14" fill="#f3dac3" text-anchor="middle" >With</text>
<text x="643.6" y="362.30" font-size="14" fill="#f3dac3" text-anchor="middle"><tspan font-size="9.5" dy="-5.5">13</tspan><tspan dy="5.5">CO<tspan font-size="9.5" dy="1.8">2</tspan><tspan dy="-1.8">+NO<tspan font-size="9.5" dy="1.8">3</tspan><tspan dy="-1.8"><tspan font-size="9.5" dy="-6.5">−</tspan><tspan dy="6.5"></tspan></tspan></tspan></text>
<rect x="641.00" y="399.70" width="5.00" height="30.90" fill="#fff"/>
<text x="643.40" y="412.70" font-size="14" fill="#e9b486" text-anchor="middle" >With</text>
<text x="643.6" y="425.60" font-size="14" fill="#e9b486" text-anchor="middle"><tspan font-size="9.5" dy="-5.5">12</tspan><tspan dy="5.5">CO<tspan font-size="9.5" dy="1.8">2</tspan><tspan dy="-1.8">+NO<tspan font-size="9.5" dy="1.8">3</tspan><tspan dy="-1.8"><tspan font-size="9.5" dy="-6.5">−</tspan><tspan dy="6.5"></tspan></tspan></tspan></text>
<rect x="641.00" y="468.60" width="5.00" height="32.60" fill="#fff"/>
<text x="643.40" y="481.60" font-size="14" fill="#e08a4b" text-anchor="middle" >With</text>
<text x="644.4" y="496.20" font-size="14" fill="#e08a4b" text-anchor="middle"><tspan font-size="9.5" dy="-5.5">12</tspan><tspan dy="5.5">CO<tspan font-size="9.5" dy="1.8">2</tspan><tspan dy="-1.8"></tspan></tspan></text>
</svg></body></html>
